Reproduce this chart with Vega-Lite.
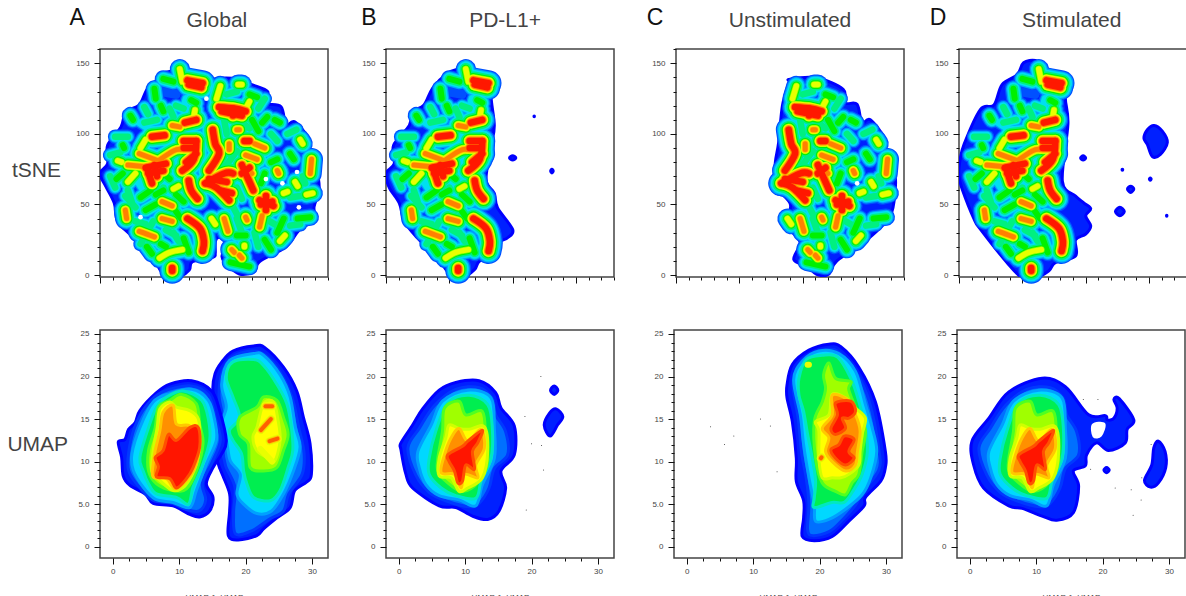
{"$schema":"https://vega.github.io/schema/vega-lite/v6.json","padding":{"left":6,"top":6,"right":0,"bottom":0},"autosize":{"type":"pad"},"background":"white",
"config":{"view":{"stroke":"#444","strokeWidth":1.5},"line":{"strokeCap":"round","strokeJoin":"round","interpolate":"cardinal"},"text":{"font":"Liberation Sans"},"axis":{"labelFont":"Liberation Sans","titleFont":"Liberation Sans","labelFontSize":8,"labelColor":"#444","tickColor":"#111","tickWidth":1,"domain":false,"grid":false,"labelOverlap":false,"labelPadding":5}},
"datasets":{
"t":[
{"g":"A","k":"p","id":"oA","d":0,"x":60,"y":150.7},{"g":"A","k":"p","id":"oA","d":0,"x":64.7,"y":146.5},{"g":"A","k":"p","id":"oA","d":0,"x":78.4,"y":142.5},{"g":"A","k":"p","id":"oA","d":0,"x":85,"y":135.8},{"g":"A","k":"p","id":"oA","d":0,"x":89,"y":138.7},{"g":"A","k":"p","id":"oA","d":0,"x":104.7,"y":139.4},{"g":"A","k":"p","id":"oA","d":0,"x":120.5,"y":134.7},{"g":"A","k":"p","id":"oA","d":0,"x":132.4,"y":130},{"g":"A","k":"p","id":"oA","d":0,"x":131,"y":121.7},{"g":"A","k":"p","id":"oA","d":0,"x":142.9,"y":119.3},{"g":"A","k":"p","id":"oA","d":0,"x":146.8,"y":106.3},{"g":"A","k":"p","id":"oA","d":0,"x":153.4,"y":108.7},{"g":"A","k":"p","id":"oA","d":0,"x":164,"y":98},{"g":"A","k":"p","id":"oA","d":0,"x":164,"y":91},{"g":"A","k":"p","id":"oA","d":0,"x":158.7,"y":79},{"g":"A","k":"p","id":"oA","d":0,"x":169.2,"y":82},{"g":"A","k":"p","id":"oA","d":0,"x":171.8,"y":72},{"g":"A","k":"p","id":"oA","d":0,"x":173,"y":60},{"g":"A","k":"p","id":"oA","d":0,"x":169,"y":48.4},{"g":"A","k":"p","id":"oA","d":0,"x":169,"y":39},{"g":"A","k":"p","id":"oA","d":0,"x":157.4,"y":32},{"g":"A","k":"p","id":"oA","d":0,"x":146.8,"y":20},{"g":"A","k":"p","id":"oA","d":0,"x":125.8,"y":9.4},{"g":"A","k":"p","id":"oA","d":0,"x":121.8,"y":2.4},{"g":"A","k":"p","id":"oA","d":0,"x":110,"y":0.7},{"g":"A","k":"p","id":"oA","d":0,"x":99.5,"y":8.3},{"g":"A","k":"p","id":"oA","d":0,"x":96.3,"y":13},{"g":"A","k":"p","id":"oA","d":0,"x":99,"y":22.4},{"g":"A","k":"p","id":"oA","d":0,"x":94.2,"y":26.7},{"g":"A","k":"p","id":"oA","d":0,"x":91,"y":23.6},{"g":"A","k":"p","id":"oA","d":0,"x":91,"y":15.4},{"g":"A","k":"p","id":"oA","d":0,"x":89,"y":12.5},{"g":"A","k":"p","id":"oA","d":0,"x":73,"y":9.4},{"g":"A","k":"p","id":"oA","d":0,"x":70.5,"y":3.5},{"g":"A","k":"p","id":"oA","d":0,"x":62.6,"y":-1},{"g":"A","k":"p","id":"oA","d":0,"x":50.8,"y":0},{"g":"A","k":"p","id":"oA","d":0,"x":41.6,"y":11.8},{"g":"A","k":"p","id":"oA","d":0,"x":25.8,"y":27},{"g":"A","k":"p","id":"oA","d":0,"x":14,"y":37.8},{"g":"A","k":"p","id":"oA","d":0,"x":11.3,"y":50.8},{"g":"A","k":"p","id":"oA","d":0,"x":4.7,"y":62.6},{"g":"A","k":"p","id":"oA","d":0,"x":0,"y":72},{"g":"A","k":"p","id":"oA","d":0,"x":6,"y":79},{"g":"A","k":"p","id":"oA","d":0,"x":6,"y":92},{"g":"A","k":"p","id":"oA","d":0,"x":16.6,"y":105},{"g":"A","k":"p","id":"oA","d":0,"x":20.5,"y":115.8},{"g":"A","k":"p","id":"oA","d":0,"x":31,"y":120.5},{"g":"A","k":"p","id":"oA","d":0,"x":37.6,"y":132.3},{"g":"A","k":"p","id":"oA","d":0,"x":46.8,"y":138.2},{"g":"A","k":"p","id":"oA","d":0,"x":49.5,"y":143},{"g":"A","k":"p","id":"oA","d":0,"x":58.7,"y":145.3},
{"g":"B","k":"p","id":"oB","d":0,"x":60.5,"y":150.7},{"g":"B","k":"p","id":"oB","d":0,"x":67,"y":146},{"g":"B","k":"p","id":"oB","d":0,"x":83,"y":141.5},{"g":"B","k":"p","id":"oB","d":0,"x":87,"y":134.6},{"g":"B","k":"p","id":"oB","d":0,"x":83,"y":127},{"g":"B","k":"p","id":"oB","d":0,"x":85.5,"y":106},{"g":"B","k":"p","id":"oB","d":0,"x":83,"y":91},{"g":"B","k":"p","id":"oB","d":0,"x":79,"y":67.6},{"g":"B","k":"p","id":"oB","d":0,"x":85.5,"y":58},{"g":"B","k":"p","id":"oB","d":0,"x":88,"y":47.7},{"g":"B","k":"p","id":"oB","d":0,"x":100,"y":32.3},{"g":"B","k":"p","id":"oB","d":0,"x":96,"y":26.4},{"g":"B","k":"p","id":"oB","d":0,"x":89.5,"y":23},{"g":"B","k":"p","id":"oB","d":0,"x":87,"y":13.5},{"g":"B","k":"p","id":"oB","d":0,"x":74,"y":10},{"g":"B","k":"p","id":"oB","d":0,"x":70,"y":4},{"g":"B","k":"p","id":"oB","d":0,"x":61,"y":-1.5},{"g":"B","k":"p","id":"oB","d":0,"x":51,"y":0},{"g":"B","k":"p","id":"oB","d":0,"x":39.5,"y":13.4},{"g":"B","k":"p","id":"oB","d":0,"x":24,"y":27},{"g":"B","k":"p","id":"oB","d":0,"x":14.5,"y":38},{"g":"B","k":"p","id":"oB","d":0,"x":10.5,"y":51},{"g":"B","k":"p","id":"oB","d":0,"x":2.6,"y":62},{"g":"B","k":"p","id":"oB","d":0,"x":0,"y":72},{"g":"B","k":"p","id":"oB","d":0,"x":6.5,"y":79},{"g":"B","k":"p","id":"oB","d":0,"x":6,"y":92},{"g":"B","k":"p","id":"oB","d":0,"x":18.4,"y":106},{"g":"B","k":"p","id":"oB","d":0,"x":21,"y":115.7},{"g":"B","k":"p","id":"oB","d":0,"x":30,"y":120.5},{"g":"B","k":"p","id":"oB","d":0,"x":37,"y":132.7},{"g":"B","k":"p","id":"oB","d":0,"x":48.7,"y":143},{"g":"B","k":"p","id":"oB","d":0,"x":58,"y":146.5},
{"g":"B","k":"p","id":"iB1","d":0,"x":97.5,"y":83},{"g":"B","k":"p","id":"iB1","d":0,"x":100,"y":84.5},{"g":"B","k":"p","id":"iB1","d":0,"x":102.5,"y":83},{"g":"B","k":"p","id":"iB1","d":0,"x":100,"y":81.5},
{"g":"B","k":"p","id":"iB2","d":0,"x":130,"y":73.7},{"g":"B","k":"p","id":"iB2","d":0,"x":131,"y":75},{"g":"B","k":"p","id":"iB2","d":0,"x":132,"y":73.7},{"g":"B","k":"p","id":"iB2","d":0,"x":131,"y":72.4},
{"g":"B","k":"p","id":"iB3","d":0,"x":116.8,"y":112.5},{"g":"B","k":"p","id":"iB3","d":0,"x":117,"y":112.8},{"g":"B","k":"p","id":"iB3","d":0,"x":117.2,"y":112.5},{"g":"B","k":"p","id":"iB3","d":0,"x":117,"y":112.2},
{"g":"C","k":"p","id":"oC","d":0,"x":90,"y":138.7},{"g":"C","k":"p","id":"oC","d":0,"x":111,"y":139.8},{"g":"C","k":"p","id":"oC","d":0,"x":132,"y":131.6},{"g":"C","k":"p","id":"oC","d":0,"x":133.6,"y":122},{"g":"C","k":"p","id":"oC","d":0,"x":142.9,"y":121},{"g":"C","k":"p","id":"oC","d":0,"x":146.8,"y":108},{"g":"C","k":"p","id":"oC","d":0,"x":153.4,"y":110},{"g":"C","k":"p","id":"oC","d":0,"x":165,"y":96},{"g":"C","k":"p","id":"oC","d":0,"x":162.5,"y":86.7},{"g":"C","k":"p","id":"oC","d":0,"x":169,"y":83},{"g":"C","k":"p","id":"oC","d":0,"x":173,"y":70},{"g":"C","k":"p","id":"oC","d":0,"x":173,"y":60.7},{"g":"C","k":"p","id":"oC","d":0,"x":169,"y":41.8},{"g":"C","k":"p","id":"oC","d":0,"x":150.8,"y":25},{"g":"C","k":"p","id":"oC","d":0,"x":127,"y":10},{"g":"C","k":"p","id":"oC","d":0,"x":120.5,"y":0.5},{"g":"C","k":"p","id":"oC","d":0,"x":111,"y":0.5},{"g":"C","k":"p","id":"oC","d":0,"x":103.4,"y":6.4},{"g":"C","k":"p","id":"oC","d":0,"x":93,"y":11},{"g":"C","k":"p","id":"oC","d":0,"x":98,"y":23},{"g":"C","k":"p","id":"oC","d":0,"x":90.3,"y":32.4},{"g":"C","k":"p","id":"oC","d":0,"x":89,"y":42},{"g":"C","k":"p","id":"oC","d":0,"x":90,"y":51},{"g":"C","k":"p","id":"oC","d":0,"x":78.4,"y":64},{"g":"C","k":"p","id":"oC","d":0,"x":78.4,"y":79.6},{"g":"C","k":"p","id":"oC","d":0,"x":81,"y":93.8},{"g":"C","k":"p","id":"oC","d":0,"x":84,"y":120},{"g":"C","k":"p","id":"oC","d":0,"x":89,"y":136},
{"g":"D","k":"p","id":"oD","d":0,"x":60.5,"y":152},{"g":"D","k":"p","id":"oD","d":0,"x":67,"y":147},{"g":"D","k":"p","id":"oD","d":0,"x":84,"y":141},{"g":"D","k":"p","id":"oD","d":0,"x":88,"y":133.5},{"g":"D","k":"p","id":"oD","d":0,"x":84,"y":125.7},{"g":"D","k":"p","id":"oD","d":0,"x":86,"y":107},{"g":"D","k":"p","id":"oD","d":0,"x":81.6,"y":66.6},{"g":"D","k":"p","id":"oD","d":0,"x":92,"y":56},{"g":"D","k":"p","id":"oD","d":0,"x":98.7,"y":51},{"g":"D","k":"p","id":"oD","d":0,"x":104,"y":47},{"g":"D","k":"p","id":"oD","d":0,"x":100,"y":42},{"g":"D","k":"p","id":"oD","d":0,"x":104,"y":34.7},{"g":"D","k":"p","id":"oD","d":0,"x":100,"y":29},{"g":"D","k":"p","id":"oD","d":0,"x":92,"y":25},{"g":"D","k":"p","id":"oD","d":0,"x":92,"y":13.5},{"g":"D","k":"p","id":"oD","d":0,"x":76,"y":8.7},{"g":"D","k":"p","id":"oD","d":0,"x":71,"y":3},{"g":"D","k":"p","id":"oD","d":0,"x":60.5,"y":-2},{"g":"D","k":"p","id":"oD","d":0,"x":50,"y":-2},{"g":"D","k":"p","id":"oD","d":0,"x":38,"y":8.7},{"g":"D","k":"p","id":"oD","d":0,"x":17,"y":32.4},{"g":"D","k":"p","id":"oD","d":0,"x":12,"y":39.5},{"g":"D","k":"p","id":"oD","d":0,"x":2.6,"y":60.7},{"g":"D","k":"p","id":"oD","d":0,"x":0,"y":70},{"g":"D","k":"p","id":"oD","d":0,"x":0.5,"y":79.6},{"g":"D","k":"p","id":"oD","d":0,"x":4,"y":92.6},{"g":"D","k":"p","id":"oD","d":0,"x":17,"y":117.4},{"g":"D","k":"p","id":"oD","d":0,"x":27.6,"y":120.5},{"g":"D","k":"p","id":"oD","d":0,"x":34,"y":135},{"g":"D","k":"p","id":"oD","d":0,"x":46,"y":142},{"g":"D","k":"p","id":"oD","d":0,"x":51,"y":150.5},
{"g":"D","k":"p","id":"iD0","d":0,"x":154,"y":106},{"g":"D","k":"p","id":"iD0","d":0,"x":160.5,"y":102},{"g":"D","k":"p","id":"iD0","d":0,"x":164.5,"y":94},{"g":"D","k":"p","id":"iD0","d":0,"x":159,"y":85.5},{"g":"D","k":"p","id":"iD0","d":0,"x":152.6,"y":84},{"g":"D","k":"p","id":"iD0","d":0,"x":148.7,"y":92.6},{"g":"D","k":"p","id":"iD0","d":0,"x":146,"y":97},{"g":"D","k":"p","id":"iD0","d":0,"x":148.7,"y":103},
{"g":"D","k":"p","id":"iD1","d":0,"x":96,"y":83},{"g":"D","k":"p","id":"iD1","d":0,"x":98,"y":84.5},{"g":"D","k":"p","id":"iD1","d":0,"x":100,"y":83},{"g":"D","k":"p","id":"iD1","d":0,"x":98,"y":81.5},
{"g":"D","k":"p","id":"iD2","d":0,"x":128.7,"y":74.6},{"g":"D","k":"p","id":"iD2","d":0,"x":129,"y":75},{"g":"D","k":"p","id":"iD2","d":0,"x":129.3,"y":74.6},{"g":"D","k":"p","id":"iD2","d":0,"x":129,"y":74.2},
{"g":"D","k":"p","id":"iD3","d":0,"x":150.3,"y":68},{"g":"D","k":"p","id":"iD3","d":0,"x":151,"y":68.8},{"g":"D","k":"p","id":"iD3","d":0,"x":151.7,"y":68},{"g":"D","k":"p","id":"iD3","d":0,"x":151,"y":67.2},
{"g":"D","k":"p","id":"iD4","d":0,"x":133,"y":61},{"g":"D","k":"p","id":"iD4","d":0,"x":135.5,"y":63},{"g":"D","k":"p","id":"iD4","d":0,"x":138,"y":61},{"g":"D","k":"p","id":"iD4","d":0,"x":135.5,"y":58.5},
{"g":"D","k":"p","id":"iD5","d":0,"x":123.5,"y":45},{"g":"D","k":"p","id":"iD5","d":0,"x":127,"y":48},{"g":"D","k":"p","id":"iD5","d":0,"x":130.5,"y":45},{"g":"D","k":"p","id":"iD5","d":0,"x":127,"y":42},
{"g":"D","k":"p","id":"iD6","d":0,"x":163.8,"y":42},{"g":"D","k":"p","id":"iD6","d":0,"x":164,"y":42.3},{"g":"D","k":"p","id":"iD6","d":0,"x":164.2,"y":42},{"g":"D","k":"p","id":"iD6","d":0,"x":164,"y":41.7},
{"g":"ABD","k":"l","id":"l1","d":7,"x":69,"y":138},{"g":"ABD","k":"l","id":"l1","d":7,"x":81,"y":136},
{"g":"ABD","k":"l","id":"l2","d":5,"x":63,"y":146},{"g":"ABD","k":"l","id":"l2","d":5,"x":65,"y":137},
{"g":"ABD","k":"l","id":"l3","d":4,"x":50,"y":139},{"g":"ABD","k":"l","id":"l3","d":4,"x":58,"y":137},
{"g":"ABD","k":"l","id":"l4","d":1,"x":48,"y":130},{"g":"ABD","k":"l","id":"l4","d":1,"x":60,"y":128},
{"g":"ABD","k":"l","id":"l5","d":4,"x":43,"y":132},{"g":"ABD","k":"l","id":"l5","d":4,"x":44,"y":125},
{"g":"ABD","k":"l","id":"l6","d":4,"x":48,"y":120},{"g":"ABD","k":"l","id":"l6","d":4,"x":50,"y":116},
{"g":"ABD","k":"l","id":"l7","d":3,"x":35,"y":119},{"g":"ABD","k":"l","id":"l7","d":3,"x":38,"y":114},
{"g":"ABD","k":"l","id":"l8","d":4,"x":24,"y":113},{"g":"ABD","k":"l","id":"l8","d":4,"x":26,"y":110},
{"g":"ABD","k":"l","id":"l9","d":2,"x":31,"y":108},{"g":"ABD","k":"l","id":"l9","d":2,"x":38,"y":104},
{"g":"ABD","k":"l","id":"l10","d":6,"x":57,"y":106},{"g":"ABD","k":"l","id":"l10","d":6,"x":63,"y":105},
{"g":"ABD","k":"l","id":"l11","d":7,"x":67,"y":108},{"g":"ABD","k":"l","id":"l11","d":7,"x":76,"y":110},
{"g":"ABD","k":"l","id":"l12","d":5,"x":75,"y":117},{"g":"ABD","k":"l","id":"l12","d":5,"x":74,"y":112},
{"g":"ABD","k":"l","id":"l13","d":7,"x":41,"y":98},{"g":"ABD","k":"l","id":"l13","d":7,"x":51,"y":99},
{"g":"ABD","k":"l","id":"l14","d":5,"x":32,"y":90},{"g":"ABD","k":"l","id":"l14","d":5,"x":36,"y":96},
{"g":"ABD","k":"l","id":"l15","d":6,"x":31,"y":86},{"g":"ABD","k":"l","id":"l15","d":6,"x":46,"y":81},
{"g":"ABD","k":"l","id":"l16","d":6,"x":46,"y":81},{"g":"ABD","k":"l","id":"l16","d":6,"x":58,"y":88},{"g":"ABD","k":"l","id":"l16","d":6,"x":64,"y":89},
{"g":"ABD","k":"l","id":"l17","d":7,"x":36,"y":76},{"g":"ABD","k":"l","id":"l17","d":7,"x":52,"y":79},
{"g":"ABD","k":"l","id":"l18","d":7,"x":37,"y":76},{"g":"ABD","k":"l","id":"l18","d":7,"x":41,"y":65},
{"g":"ABD","k":"l","id":"l19","d":7,"x":43,"y":78},{"g":"ABD","k":"l","id":"l19","d":7,"x":45,"y":70},
{"g":"ABD","k":"l","id":"l70","d":7,"x":38,"y":72},{"g":"ABD","k":"l","id":"l70","d":7,"x":50,"y":74},
{"g":"ABD","k":"l","id":"l71","d":7,"x":66,"y":90},{"g":"ABD","k":"l","id":"l71","d":7,"x":74,"y":90},
{"g":"ABD","k":"l","id":"l72","d":7,"x":68,"y":80},{"g":"ABD","k":"l","id":"l72","d":7,"x":76,"y":86},
{"g":"ABD","k":"l","id":"l73","d":7,"x":70,"y":135},{"g":"ABD","k":"l","id":"l73","d":7,"x":80,"y":133},
{"g":"ABD","k":"l","id":"l20","d":6,"x":22,"y":78},{"g":"ABD","k":"l","id":"l20","d":6,"x":34,"y":77},
{"g":"ABD","k":"l","id":"l21","d":5,"x":14,"y":81},{"g":"ABD","k":"l","id":"l21","d":5,"x":17,"y":80},
{"g":"ABD","k":"l","id":"l22","d":4,"x":18,"y":92},{"g":"ABD","k":"l","id":"l22","d":4,"x":19,"y":90},
{"g":"ABD","k":"l","id":"l23","d":3,"x":12,"y":98},{"g":"ABD","k":"l","id":"l23","d":3,"x":22,"y":98},
{"g":"ABD","k":"l","id":"l24","d":3,"x":8,"y":85},{"g":"ABD","k":"l","id":"l24","d":3,"x":16,"y":87},
{"g":"ABD","k":"l","id":"l25","d":7,"x":66,"y":95},{"g":"ABD","k":"l","id":"l25","d":7,"x":76,"y":95},
{"g":"ABD","k":"l","id":"l26","d":7,"x":76,"y":95},{"g":"ABD","k":"l","id":"l26","d":7,"x":74,"y":82},{"g":"ABD","k":"l","id":"l26","d":7,"x":65,"y":74},
{"g":"ABD","k":"l","id":"l27","d":7,"x":70,"y":67},{"g":"ABD","k":"l","id":"l27","d":7,"x":72,"y":60},{"g":"ABD","k":"l","id":"l27","d":7,"x":77,"y":54},
{"g":"ABD","k":"l","id":"l28","d":6,"x":49,"y":52},{"g":"ABD","k":"l","id":"l28","d":6,"x":57,"y":49},
{"g":"ABD","k":"l","id":"l29","d":6,"x":49,"y":40},{"g":"ABD","k":"l","id":"l29","d":6,"x":57,"y":38},
{"g":"ABD","k":"l","id":"l30","d":6,"x":20,"y":46},{"g":"ABD","k":"l","id":"l30","d":6,"x":21,"y":40},
{"g":"ABD","k":"l","id":"l31","d":7,"x":69,"y":40},{"g":"ABD","k":"l","id":"l31","d":7,"x":79,"y":33},{"g":"ABD","k":"l","id":"l31","d":7,"x":82,"y":24},{"g":"ABD","k":"l","id":"l31","d":7,"x":81,"y":17},
{"g":"ABD","k":"l","id":"l32","d":6,"x":31,"y":31},{"g":"ABD","k":"l","id":"l32","d":6,"x":37,"y":29},{"g":"ABD","k":"l","id":"l32","d":6,"x":43,"y":27},
{"g":"ABD","k":"l","id":"l33","d":5,"x":47,"y":12},{"g":"ABD","k":"l","id":"l33","d":5,"x":55,"y":16},{"g":"ABD","k":"l","id":"l33","d":5,"x":65,"y":18},
{"g":"ABD","k":"l","id":"l34","d":7,"x":57,"y":5},{"g":"ABD","k":"l","id":"l34","d":7,"x":57,"y":3},
{"g":"ABD","k":"l","id":"l36","d":5,"x":22,"y":66},{"g":"ABD","k":"l","id":"l36","d":5,"x":28,"y":72},
{"g":"ABD","k":"l","id":"l37","d":4,"x":13,"y":68},{"g":"ABD","k":"l","id":"l37","d":4,"x":18,"y":72},
{"g":"ABD","k":"l","id":"l38","d":4,"x":32,"y":55},{"g":"ABD","k":"l","id":"l38","d":4,"x":40,"y":60},
{"g":"ABD","k":"l","id":"l39","d":5,"x":58,"y":61},{"g":"ABD","k":"l","id":"l39","d":5,"x":62,"y":63},
{"g":"ABD","k":"l","id":"l40","d":4,"x":44,"y":57},{"g":"ABD","k":"l","id":"l40","d":4,"x":50,"y":60},
{"g":"ABD","k":"l","id":"l41","d":4,"x":60,"y":57},{"g":"ABD","k":"l","id":"l41","d":4,"x":66,"y":52},
{"g":"ABD","k":"l","id":"l42","d":4,"x":36,"y":46},{"g":"ABD","k":"l","id":"l42","d":4,"x":44,"y":50},
{"g":"ABD","k":"l","id":"l43","d":3,"x":58,"y":30},{"g":"ABD","k":"l","id":"l43","d":3,"x":62,"y":24},
{"g":"ABD","k":"l","id":"l44","d":4,"x":48,"y":22},{"g":"ABD","k":"l","id":"l44","d":4,"x":52,"y":20},
{"g":"ABD","k":"l","id":"l45","d":4,"x":60,"y":45},{"g":"ABD","k":"l","id":"l45","d":4,"x":64,"y":40},
{"g":"ABD","k":"l","id":"l46","d":4,"x":37,"y":20},{"g":"ABD","k":"l","id":"l46","d":4,"x":41,"y":15},
{"g":"ABD","k":"l","id":"l47","d":4,"x":55,"y":68},{"g":"ABD","k":"l","id":"l47","d":4,"x":50,"y":72},
{"g":"ABD","k":"l","id":"l48","d":3,"x":60,"y":120},{"g":"ABD","k":"l","id":"l48","d":3,"x":66,"y":118},
{"g":"ABD","k":"l","id":"l49","d":4,"x":72,"y":124},{"g":"ABD","k":"l","id":"l49","d":4,"x":76,"y":122},
{"g":"ABD","k":"l","id":"l50","d":3,"x":22,"y":60},{"g":"ABD","k":"l","id":"l50","d":3,"x":25,"y":52},
{"g":"ABD","k":"l","id":"l51","d":3,"x":8,"y":70},{"g":"ABD","k":"l","id":"l51","d":3,"x":12,"y":62},
{"g":"ABD","k":"l","id":"l52","d":3,"x":35,"y":108},{"g":"ABD","k":"l","id":"l52","d":3,"x":45,"y":110},
{"g":"ABD","k":"l","id":"l53","d":3,"x":55,"y":118},{"g":"ABD","k":"l","id":"l53","d":3,"x":58,"y":112},
{"g":"ABD","k":"l","id":"l54","d":2,"x":68,"y":125},{"g":"ABD","k":"l","id":"l54","d":2,"x":66,"y":118},
{"g":"ABD","k":"l","id":"l56","d":3,"x":20,"y":56},{"g":"ABD","k":"l","id":"l56","d":3,"x":28,"y":48},
{"g":"ABD","k":"l","id":"l57","d":2,"x":30,"y":66},{"g":"ABD","k":"l","id":"l57","d":2,"x":36,"y":58},
{"g":"ABD","k":"l","id":"l59","d":3,"x":28,"y":38},{"g":"ABD","k":"l","id":"l59","d":3,"x":36,"y":36},
{"g":"ABD","k":"l","id":"l60","d":3,"x":32,"y":22},{"g":"ABD","k":"l","id":"l60","d":3,"x":42,"y":38},
{"g":"ABD","k":"l","id":"l61","d":3,"x":60,"y":28},{"g":"ABD","k":"l","id":"l61","d":3,"x":52,"y":32},
{"g":"ABD","k":"l","id":"l62","d":4,"x":66,"y":26},{"g":"ABD","k":"l","id":"l62","d":4,"x":70,"y":16},
{"g":"ABD","k":"l","id":"l64","d":3,"x":50,"y":62},{"g":"ABD","k":"l","id":"l64","d":3,"x":46,"y":50},
{"g":"AC","k":"l","id":"r1","d":5,"x":95,"y":134},{"g":"AC","k":"l","id":"r1","d":5,"x":92,"y":125},
{"g":"AC","k":"l","id":"r2","d":7,"x":94,"y":119},{"g":"AC","k":"l","id":"r2","d":7,"x":106,"y":118},{"g":"AC","k":"l","id":"r2","d":7,"x":115,"y":116},
{"g":"AC","k":"l","id":"r3","d":7,"x":105,"y":118},{"g":"AC","k":"l","id":"r3","d":7,"x":105,"y":113},
{"g":"AC","k":"l","id":"r70","d":7,"x":96,"y":116},{"g":"AC","k":"l","id":"r70","d":7,"x":112,"y":113},
{"g":"AC","k":"l","id":"r71","d":7,"x":86,"y":68},{"g":"AC","k":"l","id":"r71","d":7,"x":100,"y":66},
{"g":"AC","k":"l","id":"r72","d":7,"x":95,"y":60},{"g":"AC","k":"l","id":"r72","d":7,"x":104,"y":58},
{"g":"AC","k":"l","id":"r73","d":7,"x":112,"y":72},{"g":"AC","k":"l","id":"r73","d":7,"x":118,"y":76},
{"g":"AC","k":"l","id":"r74","d":7,"x":127,"y":50},{"g":"AC","k":"l","id":"r74","d":7,"x":136,"y":52},
{"g":"AC","k":"l","id":"r4","d":5,"x":115,"y":118},{"g":"AC","k":"l","id":"r4","d":5,"x":118,"y":123},
{"g":"AC","k":"l","id":"r5","d":5,"x":109,"y":135},{"g":"AC","k":"l","id":"r5","d":5,"x":112,"y":135},
{"g":"AC","k":"l","id":"r6","d":7,"x":89,"y":103},{"g":"AC","k":"l","id":"r6","d":7,"x":91,"y":93},{"g":"AC","k":"l","id":"r6","d":7,"x":94,"y":86},{"g":"AC","k":"l","id":"r6","d":7,"x":86,"y":74},
{"g":"AC","k":"l","id":"r7","d":7,"x":83,"y":65},{"g":"AC","k":"l","id":"r7","d":7,"x":98,"y":72},{"g":"AC","k":"l","id":"r7","d":7,"x":105,"y":72},
{"g":"AC","k":"l","id":"r8","d":7,"x":84,"y":65},{"g":"AC","k":"l","id":"r8","d":7,"x":92,"y":62},{"g":"AC","k":"l","id":"r8","d":7,"x":102,"y":53},
{"g":"AC","k":"l","id":"r9","d":7,"x":112,"y":78},{"g":"AC","k":"l","id":"r9","d":7,"x":117,"y":68},{"g":"AC","k":"l","id":"r9","d":7,"x":121,"y":60},
{"g":"AC","k":"l","id":"r10","d":7,"x":114,"y":95},{"g":"AC","k":"l","id":"r10","d":7,"x":118,"y":95},
{"g":"AC","k":"l","id":"r11","d":6,"x":122,"y":93},{"g":"AC","k":"l","id":"r11","d":6,"x":130,"y":90},
{"g":"AC","k":"l","id":"r12","d":6,"x":115,"y":85},{"g":"AC","k":"l","id":"r12","d":6,"x":124,"y":82},
{"g":"AC","k":"l","id":"r13","d":6,"x":112,"y":78},{"g":"AC","k":"l","id":"r13","d":6,"x":120,"y":72},
{"g":"AC","k":"l","id":"r14","d":7,"x":126,"y":53},{"g":"AC","k":"l","id":"r14","d":7,"x":137,"y":49},
{"g":"AC","k":"l","id":"r15","d":7,"x":131,"y":56},{"g":"AC","k":"l","id":"r15","d":7,"x":131,"y":46},
{"g":"AC","k":"l","id":"r16","d":6,"x":140,"y":74},{"g":"AC","k":"l","id":"r16","d":6,"x":141,"y":72},
{"g":"AC","k":"l","id":"r17","d":6,"x":167,"y":82},{"g":"AC","k":"l","id":"r17","d":6,"x":166,"y":72},
{"g":"AC","k":"l","id":"r18","d":6,"x":108,"y":103},{"g":"AC","k":"l","id":"r18","d":6,"x":110,"y":103},
{"g":"AC","k":"l","id":"r19","d":6,"x":102,"y":93},{"g":"AC","k":"l","id":"r19","d":6,"x":102,"y":89},
{"g":"AC","k":"l","id":"r20","d":6,"x":115,"y":41},{"g":"AC","k":"l","id":"r20","d":6,"x":116,"y":39},
{"g":"AC","k":"l","id":"r21","d":6,"x":98,"y":40},{"g":"AC","k":"l","id":"r21","d":6,"x":101,"y":31},
{"g":"AC","k":"l","id":"r22","d":5,"x":88,"y":40},{"g":"AC","k":"l","id":"r22","d":5,"x":91,"y":36},
{"g":"AC","k":"l","id":"r23","d":6,"x":104,"y":18},{"g":"AC","k":"l","id":"r23","d":6,"x":106,"y":16},
{"g":"AC","k":"l","id":"r24","d":6,"x":110,"y":14},{"g":"AC","k":"l","id":"r24","d":6,"x":112,"y":12},
{"g":"AC","k":"l","id":"r25","d":5,"x":114,"y":20},{"g":"AC","k":"l","id":"r25","d":5,"x":114,"y":21},
{"g":"AC","k":"l","id":"r26","d":5,"x":142,"y":24},{"g":"AC","k":"l","id":"r26","d":5,"x":146,"y":28},
{"g":"AC","k":"l","id":"r27","d":6,"x":126,"y":34},{"g":"AC","k":"l","id":"r27","d":6,"x":128,"y":42},
{"g":"AC","k":"l","id":"r28","d":5,"x":154,"y":66},{"g":"AC","k":"l","id":"r28","d":5,"x":156,"y":63},
{"g":"AC","k":"l","id":"r29","d":5,"x":163,"y":57},{"g":"AC","k":"l","id":"r29","d":5,"x":168,"y":58},
{"g":"AC","k":"l","id":"r30","d":5,"x":145,"y":58},{"g":"AC","k":"l","id":"r30","d":5,"x":148,"y":59},
{"g":"AC","k":"l","id":"r31","d":4,"x":156,"y":40},{"g":"AC","k":"l","id":"r31","d":4,"x":166,"y":41},
{"g":"AC","k":"l","id":"r32","d":4,"x":128,"y":108},{"g":"AC","k":"l","id":"r32","d":4,"x":132,"y":112},
{"g":"AC","k":"l","id":"r33","d":4,"x":118,"y":128},{"g":"AC","k":"l","id":"r33","d":4,"x":124,"y":126},
{"g":"AC","k":"l","id":"r34","d":4,"x":150,"y":86},{"g":"AC","k":"l","id":"r34","d":4,"x":153,"y":82},
{"g":"AC","k":"l","id":"r35","d":5,"x":158,"y":96},{"g":"AC","k":"l","id":"r35","d":5,"x":160,"y":93},
{"g":"AC","k":"l","id":"r36","d":4,"x":138,"y":110},{"g":"AC","k":"l","id":"r36","d":4,"x":142,"y":108},
{"g":"AC","k":"l","id":"r37","d":3,"x":135,"y":100},{"g":"AC","k":"l","id":"r37","d":3,"x":140,"y":95},
{"g":"AC","k":"l","id":"r38","d":3,"x":100,"y":78},{"g":"AC","k":"l","id":"r38","d":3,"x":108,"y":88},
{"g":"AC","k":"l","id":"r39","d":4,"x":120,"y":110},{"g":"AC","k":"l","id":"r39","d":4,"x":125,"y":102},
{"g":"AC","k":"l","id":"r42","d":4,"x":135,"y":80},{"g":"AC","k":"l","id":"r42","d":4,"x":140,"y":82},
{"g":"AC","k":"l","id":"r43","d":4,"x":108,"y":28},{"g":"AC","k":"l","id":"r43","d":4,"x":115,"y":28},
{"g":"AC","k":"l","id":"r44","d":4,"x":130,"y":25},{"g":"AC","k":"l","id":"r44","d":4,"x":135,"y":18},
{"g":"AC","k":"l","id":"r45","d":3,"x":104,"y":50},{"g":"AC","k":"l","id":"r45","d":3,"x":110,"y":40},
{"g":"AC","k":"l","id":"r46","d":4,"x":103,"y":9},{"g":"AC","k":"l","id":"r46","d":4,"x":118,"y":6},
{"g":"AC","k":"l","id":"r48","d":4,"x":145,"y":40},{"g":"AC","k":"l","id":"r48","d":4,"x":140,"y":30},
{"g":"AC","k":"l","id":"r49","d":4,"x":127,"y":65},{"g":"AC","k":"l","id":"r49","d":4,"x":130,"y":72},
{"g":"AC","k":"l","id":"r50","d":3,"x":98,"y":110},{"g":"AC","k":"l","id":"r50","d":3,"x":100,"y":100},
{"g":"AC","k":"l","id":"r51","d":3,"x":112,"y":108},{"g":"AC","k":"l","id":"r51","d":3,"x":118,"y":104},
{"g":"AC","k":"l","id":"r54","d":3,"x":150,"y":55},{"g":"AC","k":"l","id":"r54","d":3,"x":158,"y":56},
{"g":"AC","k":"l","id":"r55","d":3,"x":108,"y":62},{"g":"AC","k":"l","id":"r55","d":3,"x":112,"y":54},
{"g":"AC","k":"l","id":"r56","d":3,"x":125,"y":20},{"g":"AC","k":"l","id":"r56","d":3,"x":122,"y":30},
{"g":"AC","k":"l","id":"r57","d":3,"x":150,"y":35},{"g":"AC","k":"l","id":"r57","d":3,"x":158,"y":36},
{"g":"AC","k":"l","id":"r58","d":3,"x":108,"y":40},{"g":"AC","k":"l","id":"r58","d":3,"x":112,"y":30},
{"g":"AC","k":"l","id":"r59","d":3,"x":140,"y":35},{"g":"AC","k":"l","id":"r59","d":3,"x":130,"y":40},
{"g":"AC","k":"l","id":"r60","d":3,"x":100,"y":128},{"g":"AC","k":"l","id":"r60","d":3,"x":108,"y":130},
{"g":"AC","k":"l","id":"r61","d":3,"x":130,"y":125},{"g":"AC","k":"l","id":"r61","d":3,"x":125,"y":118},
{"g":"AC","k":"l","id":"r62","d":3,"x":148,"y":100},{"g":"AC","k":"l","id":"r62","d":3,"x":155,"y":103},
{"g":"AC","k":"l","id":"r63","d":3,"x":160,"y":70},{"g":"AC","k":"l","id":"r63","d":3,"x":162,"y":65},
{"g":"A","k":"h","x":84,"y":125},{"g":"A","k":"h","x":131,"y":68},{"g":"A","k":"h","x":144,"y":65},{"g":"A","k":"h","x":155.5,"y":73},{"g":"A","k":"h","x":157,"y":48},{"g":"A","k":"h","x":32,"y":41},{"g":"C","k":"h","x":143,"y":65},
{"g":"A","k":"t","x":92.3,"y":180,"s":"Global"},{"g":"B","k":"t","x":94,"y":180,"s":"PD-L1+"},{"g":"C","k":"t","x":90,"y":180,"s":"Unstimulated"},{"g":"D","k":"t","x":89,"y":180,"s":"Stimulated"},
{"g":"A","k":"n","x":-18,"y":182,"s":"A"},{"g":"B","k":"n","x":-13.4,"y":182,"s":"B"},{"g":"C","k":"n","x":-16.6,"y":182,"s":"C"},{"g":"D","k":"n","x":-16.6,"y":182,"s":"D"},
{"g":"A","k":"r","x":-30.8,"y":73.7,"s":" tSNE"}
],
"u":[
{"g":"A","k":"p","id":"Ar0","d":0,"x":15.1,"y":18.3},{"g":"A","k":"p","id":"Ar0","d":0,"x":15.4,"y":20.3},{"g":"A","k":"p","id":"Ar0","d":0,"x":16.4,"y":21.7},{"g":"A","k":"p","id":"Ar0","d":0,"x":18.1,"y":23},{"g":"A","k":"p","id":"Ar0","d":0,"x":21.2,"y":23.6},{"g":"A","k":"p","id":"Ar0","d":0,"x":22.9,"y":23.4},{"g":"A","k":"p","id":"Ar0","d":0,"x":25.7,"y":21.1},{"g":"A","k":"p","id":"Ar0","d":0,"x":27.7,"y":18.3},{"g":"A","k":"p","id":"Ar0","d":0,"x":28.7,"y":15.2},{"g":"A","k":"p","id":"Ar0","d":0,"x":29.7,"y":12.1},{"g":"A","k":"p","id":"Ar0","d":0,"x":29.9,"y":8.5},{"g":"A","k":"p","id":"Ar0","d":0,"x":29.2,"y":7.6},{"g":"A","k":"p","id":"Ar0","d":0,"x":27.4,"y":6.6},{"g":"A","k":"p","id":"Ar0","d":0,"x":26.7,"y":4.6},{"g":"A","k":"p","id":"Ar0","d":0,"x":24.7,"y":3.4},{"g":"A","k":"p","id":"Ar0","d":0,"x":22.7,"y":2.1},{"g":"A","k":"p","id":"Ar0","d":0,"x":21.7,"y":1.3},{"g":"A","k":"p","id":"Ar0","d":0,"x":18.9,"y":0.8},{"g":"A","k":"p","id":"Ar0","d":0,"x":17.4,"y":1.3},{"g":"A","k":"p","id":"Ar0","d":0,"x":17.6,"y":4.2},{"g":"A","k":"p","id":"Ar0","d":0,"x":17.6,"y":6.2},{"g":"A","k":"p","id":"Ar0","d":0,"x":16.6,"y":8.3},{"g":"A","k":"p","id":"Ar0","d":0,"x":15.9,"y":9.7},{"g":"A","k":"p","id":"Ar0","d":0,"x":15.6,"y":11.3},{"g":"A","k":"p","id":"Ar0","d":0,"x":16.4,"y":13.2},{"g":"A","k":"p","id":"Ar0","d":0,"x":15.9,"y":16},
{"g":"A","k":"p","id":"Ar1","d":1,"x":16,"y":18},{"g":"A","k":"p","id":"Ar1","d":1,"x":16.5,"y":20.5},{"g":"A","k":"p","id":"Ar1","d":1,"x":18,"y":22.3},{"g":"A","k":"p","id":"Ar1","d":1,"x":21,"y":23},{"g":"A","k":"p","id":"Ar1","d":1,"x":23,"y":22.5},{"g":"A","k":"p","id":"Ar1","d":1,"x":25.2,"y":20.5},{"g":"A","k":"p","id":"Ar1","d":1,"x":27,"y":17.5},{"g":"A","k":"p","id":"Ar1","d":1,"x":28,"y":14},{"g":"A","k":"p","id":"Ar1","d":1,"x":28.8,"y":11},{"g":"A","k":"p","id":"Ar1","d":1,"x":28.5,"y":8.5},{"g":"A","k":"p","id":"Ar1","d":1,"x":26.5,"y":6.2},{"g":"A","k":"p","id":"Ar1","d":1,"x":25.7,"y":4.2},{"g":"A","k":"p","id":"Ar1","d":1,"x":23.5,"y":3.2},{"g":"A","k":"p","id":"Ar1","d":1,"x":21,"y":1.9},{"g":"A","k":"p","id":"Ar1","d":1,"x":18.5,"y":1.5},{"g":"A","k":"p","id":"Ar1","d":1,"x":18.2,"y":4},{"g":"A","k":"p","id":"Ar1","d":1,"x":18.4,"y":7},{"g":"A","k":"p","id":"Ar1","d":1,"x":17,"y":9.5},{"g":"A","k":"p","id":"Ar1","d":1,"x":16.6,"y":11.5},{"g":"A","k":"p","id":"Ar1","d":1,"x":17,"y":14},{"g":"A","k":"p","id":"Ar1","d":1,"x":16.4,"y":16},
{"g":"A","k":"p","id":"Ar2","d":2,"x":16.4,"y":19.1},{"g":"A","k":"p","id":"Ar2","d":2,"x":17.6,"y":21.9},{"g":"A","k":"p","id":"Ar2","d":2,"x":21.2,"y":22.7},{"g":"A","k":"p","id":"Ar2","d":2,"x":22.7,"y":22.5},{"g":"A","k":"p","id":"Ar2","d":2,"x":25.2,"y":20.2},{"g":"A","k":"p","id":"Ar2","d":2,"x":26.7,"y":17.6},{"g":"A","k":"p","id":"Ar2","d":2,"x":27.5,"y":14},{"g":"A","k":"p","id":"Ar2","d":2,"x":28.2,"y":11.7},{"g":"A","k":"p","id":"Ar2","d":2,"x":27.2,"y":8.9},{"g":"A","k":"p","id":"Ar2","d":2,"x":25.7,"y":6.2},{"g":"A","k":"p","id":"Ar2","d":2,"x":23.9,"y":4.2},{"g":"A","k":"p","id":"Ar2","d":2,"x":21.7,"y":3.9},{"g":"A","k":"p","id":"Ar2","d":2,"x":19.7,"y":5},{"g":"A","k":"p","id":"Ar2","d":2,"x":18.7,"y":6.2},{"g":"A","k":"p","id":"Ar2","d":2,"x":19.2,"y":8.5},{"g":"A","k":"p","id":"Ar2","d":2,"x":17.7,"y":10.1},{"g":"A","k":"p","id":"Ar2","d":2,"x":17.1,"y":12.5},{"g":"A","k":"p","id":"Ar2","d":2,"x":16.1,"y":14},{"g":"A","k":"p","id":"Ar2","d":2,"x":17.1,"y":16.4},
{"g":"A","k":"p","id":"Ar3","d":3,"x":17.1,"y":19.9},{"g":"A","k":"p","id":"Ar3","d":3,"x":18.1,"y":21.7},{"g":"A","k":"p","id":"Ar3","d":3,"x":21.2,"y":22},{"g":"A","k":"p","id":"Ar3","d":3,"x":22.7,"y":21.3},{"g":"A","k":"p","id":"Ar3","d":3,"x":24.7,"y":19.1},{"g":"A","k":"p","id":"Ar3","d":3,"x":26.2,"y":16.8},{"g":"A","k":"p","id":"Ar3","d":3,"x":26.9,"y":14},{"g":"A","k":"p","id":"Ar3","d":3,"x":27.1,"y":11.3},{"g":"A","k":"p","id":"Ar3","d":3,"x":26.4,"y":9.3},{"g":"A","k":"p","id":"Ar3","d":3,"x":25.2,"y":6.6},{"g":"A","k":"p","id":"Ar3","d":3,"x":23.7,"y":5.4},{"g":"A","k":"p","id":"Ar3","d":3,"x":21.2,"y":5.8},{"g":"A","k":"p","id":"Ar3","d":3,"x":20.2,"y":7.4},{"g":"A","k":"p","id":"Ar3","d":3,"x":19.7,"y":8.9},{"g":"A","k":"p","id":"Ar3","d":3,"x":19.4,"y":10.9},{"g":"A","k":"p","id":"Ar3","d":3,"x":18.1,"y":12.5},{"g":"A","k":"p","id":"Ar3","d":3,"x":17.6,"y":13.7},{"g":"A","k":"p","id":"Ar3","d":3,"x":19.1,"y":15.2},{"g":"A","k":"p","id":"Ar3","d":3,"x":18.1,"y":17.6},
{"g":"A","k":"p","id":"Ar4","d":4,"x":19.1,"y":15.2},{"g":"A","k":"p","id":"Ar4","d":4,"x":21.7,"y":16.4},{"g":"A","k":"p","id":"Ar4","d":4,"x":22.7,"y":17.6},{"g":"A","k":"p","id":"Ar4","d":4,"x":24.7,"y":17.2},{"g":"A","k":"p","id":"Ar4","d":4,"x":25.7,"y":15.2},{"g":"A","k":"p","id":"Ar4","d":4,"x":26.4,"y":13.2},{"g":"A","k":"p","id":"Ar4","d":4,"x":25.7,"y":11.3},{"g":"A","k":"p","id":"Ar4","d":4,"x":24.7,"y":9.3},{"g":"A","k":"p","id":"Ar4","d":4,"x":22.7,"y":8.9},{"g":"A","k":"p","id":"Ar4","d":4,"x":20.7,"y":9.3},{"g":"A","k":"p","id":"Ar4","d":4,"x":20.4,"y":12.1},{"g":"A","k":"p","id":"Ar4","d":4,"x":19.1,"y":13.2},
{"g":"A","k":"p","id":"Ar5","d":5,"x":21.7,"y":14},{"g":"A","k":"p","id":"Ar5","d":5,"x":22.7,"y":16.8},{"g":"A","k":"p","id":"Ar5","d":5,"x":24.2,"y":17},{"g":"A","k":"p","id":"Ar5","d":5,"x":24.9,"y":14.8},{"g":"A","k":"p","id":"Ar5","d":5,"x":25.2,"y":12.5},{"g":"A","k":"p","id":"Ar5","d":5,"x":24.4,"y":10.1},{"g":"A","k":"p","id":"Ar5","d":5,"x":23.2,"y":10.5},{"g":"A","k":"p","id":"Ar5","d":5,"x":21.7,"y":11.3},{"g":"A","k":"p","id":"Ar5","d":5,"x":21.1,"y":12.9},
{"g":"A","k":"l","id":"As1","d":6,"x":23,"y":16.5},{"g":"A","k":"l","id":"As1","d":6,"x":24,"y":16.5},
{"g":"A","k":"l","id":"As2","d":6,"x":22.3,"y":13.7},{"g":"A","k":"l","id":"As2","d":6,"x":23.8,"y":15},
{"g":"A","k":"l","id":"As3","d":6,"x":23.6,"y":12.4},{"g":"A","k":"l","id":"As3","d":6,"x":24.8,"y":12.7},
{"g":"A","k":"l","id":"As4","d":5,"x":22.2,"y":11.5},{"g":"A","k":"l","id":"As4","d":5,"x":24,"y":10},
{"g":"A","k":"p","id":"Al0","d":0,"x":0.85,"y":12.3},{"g":"A","k":"p","id":"Al0","d":0,"x":1.85,"y":12.6},{"g":"A","k":"p","id":"Al0","d":0,"x":2.4,"y":13.8},{"g":"A","k":"p","id":"Al0","d":0,"x":3.4,"y":14.6},{"g":"A","k":"p","id":"Al0","d":0,"x":4.1,"y":16},{"g":"A","k":"p","id":"Al0","d":0,"x":6.6,"y":18.1},{"g":"A","k":"p","id":"Al0","d":0,"x":8.6,"y":19.1},{"g":"A","k":"p","id":"Al0","d":0,"x":11.9,"y":19.5},{"g":"A","k":"p","id":"Al0","d":0,"x":14.9,"y":18.3},{"g":"A","k":"p","id":"Al0","d":0,"x":16.1,"y":16},{"g":"A","k":"p","id":"Al0","d":0,"x":17.1,"y":12.5},{"g":"A","k":"p","id":"Al0","d":0,"x":16.4,"y":10.9},{"g":"A","k":"p","id":"Al0","d":0,"x":15.1,"y":9.3},{"g":"A","k":"p","id":"Al0","d":0,"x":14.1,"y":7.4},{"g":"A","k":"p","id":"Al0","d":0,"x":15.1,"y":5.8},{"g":"A","k":"p","id":"Al0","d":0,"x":14.6,"y":4.2},{"g":"A","k":"p","id":"Al0","d":0,"x":13.1,"y":3.5},{"g":"A","k":"p","id":"Al0","d":0,"x":11.6,"y":3.8},{"g":"A","k":"p","id":"Al0","d":0,"x":9.1,"y":4.8},{"g":"A","k":"p","id":"Al0","d":0,"x":6.1,"y":5.1},{"g":"A","k":"p","id":"Al0","d":0,"x":4.9,"y":6.2},{"g":"A","k":"p","id":"Al0","d":0,"x":2.6,"y":7.2},{"g":"A","k":"p","id":"Al0","d":0,"x":1.6,"y":8.3},{"g":"A","k":"p","id":"Al0","d":0,"x":1.35,"y":10.5},
{"g":"A","k":"p","id":"Al1","d":1,"x":2.4,"y":11},{"g":"A","k":"p","id":"Al1","d":1,"x":3.3,"y":14},{"g":"A","k":"p","id":"Al1","d":1,"x":5,"y":16.5},{"g":"A","k":"p","id":"Al1","d":1,"x":7.5,"y":18.2},{"g":"A","k":"p","id":"Al1","d":1,"x":11.8,"y":18.9},{"g":"A","k":"p","id":"Al1","d":1,"x":14.4,"y":17.8},{"g":"A","k":"p","id":"Al1","d":1,"x":15.5,"y":15},{"g":"A","k":"p","id":"Al1","d":1,"x":16.2,"y":12.5},{"g":"A","k":"p","id":"Al1","d":1,"x":15,"y":10},{"g":"A","k":"p","id":"Al1","d":1,"x":13.5,"y":7.5},{"g":"A","k":"p","id":"Al1","d":1,"x":14,"y":5.5},{"g":"A","k":"p","id":"Al1","d":1,"x":13,"y":4.2},{"g":"A","k":"p","id":"Al1","d":1,"x":11,"y":4.4},{"g":"A","k":"p","id":"Al1","d":1,"x":9,"y":5.1},{"g":"A","k":"p","id":"Al1","d":1,"x":6,"y":5.5},{"g":"A","k":"p","id":"Al1","d":1,"x":3.5,"y":7.5},{"g":"A","k":"p","id":"Al1","d":1,"x":2.4,"y":9},
{"g":"A","k":"p","id":"Al2","d":2,"x":2.9,"y":10.9},{"g":"A","k":"p","id":"Al2","d":2,"x":4.1,"y":14},{"g":"A","k":"p","id":"Al2","d":2,"x":6.1,"y":17},{"g":"A","k":"p","id":"Al2","d":2,"x":8.6,"y":18},{"g":"A","k":"p","id":"Al2","d":2,"x":11.9,"y":18.5},{"g":"A","k":"p","id":"Al2","d":2,"x":14.4,"y":17.2},{"g":"A","k":"p","id":"Al2","d":2,"x":15.4,"y":14.7},{"g":"A","k":"p","id":"Al2","d":2,"x":15.6,"y":12.5},{"g":"A","k":"p","id":"Al2","d":2,"x":14.1,"y":9.7},{"g":"A","k":"p","id":"Al2","d":2,"x":12.6,"y":6.6},{"g":"A","k":"p","id":"Al2","d":2,"x":11.6,"y":4.6},{"g":"A","k":"p","id":"Al2","d":2,"x":9.1,"y":5.2},{"g":"A","k":"p","id":"Al2","d":2,"x":6.4,"y":5.6},{"g":"A","k":"p","id":"Al2","d":2,"x":4.6,"y":7},{"g":"A","k":"p","id":"Al2","d":2,"x":3.1,"y":9},
{"g":"A","k":"p","id":"Al3","d":3,"x":4.1,"y":10.5},{"g":"A","k":"p","id":"Al3","d":3,"x":5.4,"y":14},{"g":"A","k":"p","id":"Al3","d":3,"x":6.6,"y":16.4},{"g":"A","k":"p","id":"Al3","d":3,"x":8.1,"y":17.6},{"g":"A","k":"p","id":"Al3","d":3,"x":10.6,"y":18.3},{"g":"A","k":"p","id":"Al3","d":3,"x":13.4,"y":17.2},{"g":"A","k":"p","id":"Al3","d":3,"x":14.4,"y":15},{"g":"A","k":"p","id":"Al3","d":3,"x":14.6,"y":12.5},{"g":"A","k":"p","id":"Al3","d":3,"x":13.4,"y":9.3},{"g":"A","k":"p","id":"Al3","d":3,"x":12.1,"y":7},{"g":"A","k":"p","id":"Al3","d":3,"x":11.4,"y":5},{"g":"A","k":"p","id":"Al3","d":3,"x":9.6,"y":5.8},{"g":"A","k":"p","id":"Al3","d":3,"x":6.6,"y":6.2},{"g":"A","k":"p","id":"Al3","d":3,"x":5.4,"y":7.4},{"g":"A","k":"p","id":"Al3","d":3,"x":4.6,"y":8.9},
{"g":"A","k":"p","id":"Al4","d":4,"x":5.4,"y":11.3},{"g":"A","k":"p","id":"Al4","d":4,"x":6.4,"y":14},{"g":"A","k":"p","id":"Al4","d":4,"x":6.9,"y":16.4},{"g":"A","k":"p","id":"Al4","d":4,"x":8.6,"y":17.2},{"g":"A","k":"p","id":"Al4","d":4,"x":10.4,"y":17.9},{"g":"A","k":"p","id":"Al4","d":4,"x":12.6,"y":16.8},{"g":"A","k":"p","id":"Al4","d":4,"x":13.1,"y":14.4},{"g":"A","k":"p","id":"Al4","d":4,"x":13.6,"y":12.1},{"g":"A","k":"p","id":"Al4","d":4,"x":12.6,"y":8.9},{"g":"A","k":"p","id":"Al4","d":4,"x":11.1,"y":6.8},{"g":"A","k":"p","id":"Al4","d":4,"x":9.1,"y":6.6},{"g":"A","k":"p","id":"Al4","d":4,"x":6.6,"y":7.4},{"g":"A","k":"p","id":"Al4","d":4,"x":5.4,"y":8.9},
{"g":"A","k":"p","id":"Al5","d":5,"x":6.1,"y":11.3},{"g":"A","k":"p","id":"Al5","d":5,"x":6.7,"y":14},{"g":"A","k":"p","id":"Al5","d":5,"x":7.1,"y":16.2},{"g":"A","k":"p","id":"Al5","d":5,"x":8.6,"y":17},{"g":"A","k":"p","id":"Al5","d":5,"x":9.6,"y":16.4},{"g":"A","k":"p","id":"Al5","d":5,"x":11.6,"y":16},{"g":"A","k":"p","id":"Al5","d":5,"x":12.9,"y":15},{"g":"A","k":"p","id":"Al5","d":5,"x":13.1,"y":12.5},{"g":"A","k":"p","id":"Al5","d":5,"x":12.6,"y":9.7},{"g":"A","k":"p","id":"Al5","d":5,"x":10.9,"y":7.2},{"g":"A","k":"p","id":"Al5","d":5,"x":9.1,"y":6.6},{"g":"A","k":"p","id":"Al5","d":5,"x":7.1,"y":7.8},{"g":"A","k":"p","id":"Al5","d":5,"x":5.9,"y":8.9},
{"g":"A","k":"p","id":"Al6","d":6,"x":6.4,"y":11.3},{"g":"A","k":"p","id":"Al6","d":6,"x":7.1,"y":13.6},{"g":"A","k":"p","id":"Al6","d":6,"x":7.6,"y":15.8},{"g":"A","k":"p","id":"Al6","d":6,"x":9.1,"y":16.6},{"g":"A","k":"p","id":"Al6","d":6,"x":9.6,"y":14.4},{"g":"A","k":"p","id":"Al6","d":6,"x":11.6,"y":14.2},{"g":"A","k":"p","id":"Al6","d":6,"x":12.9,"y":12.5},{"g":"A","k":"p","id":"Al6","d":6,"x":12.6,"y":9.7},{"g":"A","k":"p","id":"Al6","d":6,"x":11.1,"y":7.8},{"g":"A","k":"p","id":"Al6","d":6,"x":9.4,"y":6.8},{"g":"A","k":"p","id":"Al6","d":6,"x":8.1,"y":8},{"g":"A","k":"p","id":"Al6","d":6,"x":6.1,"y":8.2},{"g":"A","k":"p","id":"Al6","d":6,"x":6.1,"y":9.7},
{"g":"A","k":"p","id":"Al7","d":7,"x":6.4,"y":10.5},{"g":"A","k":"p","id":"Al7","d":7,"x":7.6,"y":11.3},{"g":"A","k":"p","id":"Al7","d":7,"x":8.4,"y":13.2},{"g":"A","k":"p","id":"Al7","d":7,"x":9.6,"y":12.5},{"g":"A","k":"p","id":"Al7","d":7,"x":11.6,"y":14},{"g":"A","k":"p","id":"Al7","d":7,"x":12.9,"y":14},{"g":"A","k":"p","id":"Al7","d":7,"x":13.1,"y":11.7},{"g":"A","k":"p","id":"Al7","d":7,"x":12.1,"y":9.3},{"g":"A","k":"p","id":"Al7","d":7,"x":11.1,"y":8},{"g":"A","k":"p","id":"Al7","d":7,"x":9.6,"y":6.9},{"g":"A","k":"p","id":"Al7","d":7,"x":8.6,"y":8},{"g":"A","k":"p","id":"Al7","d":7,"x":6.6,"y":8.2},{"g":"A","k":"p","id":"Al7","d":7,"x":6.9,"y":9.4},
{"g":"B","k":"p","id":"Bo","d":0,"x":0.35,"y":12.2},{"g":"B","k":"p","id":"Bo","d":0,"x":2.1,"y":14.3},{"g":"B","k":"p","id":"Bo","d":0,"x":3.6,"y":16.2},{"g":"B","k":"p","id":"Bo","d":0,"x":6.1,"y":18.4},{"g":"B","k":"p","id":"Bo","d":0,"x":8.6,"y":19.3},{"g":"B","k":"p","id":"Bo","d":0,"x":12.1,"y":19.5},{"g":"B","k":"p","id":"Bo","d":0,"x":14.6,"y":18.1},{"g":"B","k":"p","id":"Bo","d":0,"x":15.4,"y":16.3},{"g":"B","k":"p","id":"Bo","d":0,"x":17.4,"y":14.2},{"g":"B","k":"p","id":"Bo","d":0,"x":17.4,"y":10.8},{"g":"B","k":"p","id":"Bo","d":0,"x":15.4,"y":8.9},{"g":"B","k":"p","id":"Bo","d":0,"x":16.1,"y":6.9},{"g":"B","k":"p","id":"Bo","d":0,"x":15.1,"y":4.2},{"g":"B","k":"p","id":"Bo","d":0,"x":13.4,"y":3.2},{"g":"B","k":"p","id":"Bo","d":0,"x":11.1,"y":3.6},{"g":"B","k":"p","id":"Bo","d":0,"x":8.6,"y":4.6},{"g":"B","k":"p","id":"Bo","d":0,"x":6.1,"y":4.8},{"g":"B","k":"p","id":"Bo","d":0,"x":2.1,"y":6.9},{"g":"B","k":"p","id":"Bo","d":0,"x":1.1,"y":8.5},{"g":"B","k":"p","id":"Bo","d":0,"x":0.35,"y":11.4},
{"g":"B","k":"p","id":"Bi1","d":0,"x":22.85,"y":18.4},{"g":"B","k":"p","id":"Bi1","d":0,"x":23.4,"y":18.9},{"g":"B","k":"p","id":"Bi1","d":0,"x":23.95,"y":18.4},{"g":"B","k":"p","id":"Bi1","d":0,"x":23.4,"y":17.9},
{"g":"B","k":"p","id":"Bi2","d":0,"x":23.7,"y":16.2},{"g":"B","k":"p","id":"Bi2","d":0,"x":24.7,"y":15.3},{"g":"B","k":"p","id":"Bi2","d":0,"x":23.9,"y":14.3},{"g":"B","k":"p","id":"Bi2","d":0,"x":22.8,"y":13},{"g":"B","k":"p","id":"Bi2","d":0,"x":21.9,"y":14.3},{"g":"B","k":"p","id":"Bi2","d":0,"x":22.7,"y":15.7},
{"g":"D","k":"p","id":"Do","d":0,"x":0.35,"y":12.4},{"g":"D","k":"p","id":"Do","d":0,"x":2.9,"y":15.1},{"g":"D","k":"p","id":"Do","d":0,"x":5.9,"y":18.2},{"g":"D","k":"p","id":"Do","d":0,"x":10.9,"y":19.8},{"g":"D","k":"p","id":"Do","d":0,"x":14.4,"y":18.8},{"g":"D","k":"p","id":"Do","d":0,"x":17.9,"y":15.5},{"g":"D","k":"p","id":"Do","d":0,"x":20.4,"y":15.4},{"g":"D","k":"p","id":"Do","d":0,"x":20.7,"y":14.9},{"g":"D","k":"p","id":"Do","d":0,"x":21.7,"y":15.1},{"g":"D","k":"p","id":"Do","d":0,"x":22.2,"y":16.3},{"g":"D","k":"p","id":"Do","d":0,"x":21.7,"y":17.3},{"g":"D","k":"p","id":"Do","d":0,"x":22.5,"y":17.4},{"g":"D","k":"p","id":"Do","d":0,"x":24.7,"y":14.9},{"g":"D","k":"p","id":"Do","d":0,"x":23.7,"y":13.8},{"g":"D","k":"p","id":"Do","d":0,"x":23.4,"y":12.2},{"g":"D","k":"p","id":"Do","d":0,"x":20.9,"y":11.3},{"g":"D","k":"p","id":"Do","d":0,"x":19.1,"y":12.2},{"g":"D","k":"p","id":"Do","d":0,"x":17.6,"y":10.8},{"g":"D","k":"p","id":"Do","d":0,"x":17.4,"y":9.5},{"g":"D","k":"p","id":"Do","d":0,"x":15.6,"y":8.9},{"g":"D","k":"p","id":"Do","d":0,"x":16.4,"y":7.1},{"g":"D","k":"p","id":"Do","d":0,"x":15.6,"y":4},{"g":"D","k":"p","id":"Do","d":0,"x":13.1,"y":3.1},{"g":"D","k":"p","id":"Do","d":0,"x":10.9,"y":3.6},{"g":"D","k":"p","id":"Do","d":0,"x":7.9,"y":4.5},{"g":"D","k":"p","id":"Do","d":0,"x":5.9,"y":4.8},{"g":"D","k":"p","id":"Do","d":0,"x":2.1,"y":6.9},{"g":"D","k":"p","id":"Do","d":0,"x":0.6,"y":9.6},
{"g":"D","k":"p","id":"Dh","d":9,"x":18.6,"y":14.3},{"g":"D","k":"p","id":"Dh","d":9,"x":20.2,"y":14.4},{"g":"D","k":"p","id":"Dh","d":9,"x":19.7,"y":13.1},{"g":"D","k":"p","id":"Dh","d":9,"x":18.7,"y":13},
{"g":"D","k":"p","id":"Dc","d":0,"x":28.4,"y":12.4},{"g":"D","k":"p","id":"Dc","d":0,"x":29.4,"y":11.2},{"g":"D","k":"p","id":"Dc","d":0,"x":29.5,"y":9.3},{"g":"D","k":"p","id":"Dc","d":0,"x":28.4,"y":7.5},{"g":"D","k":"p","id":"Dc","d":0,"x":27.2,"y":7},{"g":"D","k":"p","id":"Dc","d":0,"x":26.3,"y":7.8},{"g":"D","k":"p","id":"Dc","d":0,"x":27.4,"y":9.6},{"g":"D","k":"p","id":"Dc","d":0,"x":27.7,"y":11.6},
{"g":"D","k":"p","id":"Dd","d":0,"x":20.2,"y":9},{"g":"D","k":"p","id":"Dd","d":0,"x":20.6,"y":9.3},{"g":"D","k":"p","id":"Dd","d":0,"x":21,"y":9},{"g":"D","k":"p","id":"Dd","d":0,"x":20.6,"y":8.7},
{"g":"BD","k":"p","id":"b1","d":1,"x":1.4,"y":11.6},{"g":"BD","k":"p","id":"b1","d":1,"x":3.1,"y":13.9},{"g":"BD","k":"p","id":"b1","d":1,"x":5.4,"y":16.6},{"g":"BD","k":"p","id":"b1","d":1,"x":8.6,"y":18.5},{"g":"BD","k":"p","id":"b1","d":1,"x":12.1,"y":18.7},{"g":"BD","k":"p","id":"b1","d":1,"x":14.1,"y":17.4},{"g":"BD","k":"p","id":"b1","d":1,"x":14.6,"y":15.5},{"g":"BD","k":"p","id":"b1","d":1,"x":16.1,"y":13.5},{"g":"BD","k":"p","id":"b1","d":1,"x":16.4,"y":10.8},{"g":"BD","k":"p","id":"b1","d":1,"x":14.4,"y":9.2},{"g":"BD","k":"p","id":"b1","d":1,"x":13.6,"y":6.9},{"g":"BD","k":"p","id":"b1","d":1,"x":12.1,"y":5.1},{"g":"BD","k":"p","id":"b1","d":1,"x":10.6,"y":4.7},{"g":"BD","k":"p","id":"b1","d":1,"x":7.1,"y":5.4},{"g":"BD","k":"p","id":"b1","d":1,"x":4.6,"y":6.4},{"g":"BD","k":"p","id":"b1","d":1,"x":2.6,"y":8.4},
{"g":"BD","k":"p","id":"b2","d":2,"x":2.9,"y":11.2},{"g":"BD","k":"p","id":"b2","d":2,"x":4.9,"y":14.3},{"g":"BD","k":"p","id":"b2","d":2,"x":6.6,"y":17.1},{"g":"BD","k":"p","id":"b2","d":2,"x":10.4,"y":18.4},{"g":"BD","k":"p","id":"b2","d":2,"x":13.9,"y":17.5},{"g":"BD","k":"p","id":"b2","d":2,"x":14.4,"y":13.9},{"g":"BD","k":"p","id":"b2","d":2,"x":14.4,"y":10.4},{"g":"BD","k":"p","id":"b2","d":2,"x":12.6,"y":7.3},{"g":"BD","k":"p","id":"b2","d":2,"x":11.6,"y":4.8},{"g":"BD","k":"p","id":"b2","d":2,"x":9.1,"y":5.5},{"g":"BD","k":"p","id":"b2","d":2,"x":6.1,"y":6},{"g":"BD","k":"p","id":"b2","d":2,"x":4.1,"y":7.3},{"g":"BD","k":"p","id":"b2","d":2,"x":3.1,"y":9.3},
{"g":"BD","k":"p","id":"b3","d":3,"x":4.6,"y":10.4},{"g":"BD","k":"p","id":"b3","d":3,"x":5.6,"y":13.6},{"g":"BD","k":"p","id":"b3","d":3,"x":7.4,"y":16.9},{"g":"BD","k":"p","id":"b3","d":3,"x":10.6,"y":17.8},{"g":"BD","k":"p","id":"b3","d":3,"x":13.4,"y":16.7},{"g":"BD","k":"p","id":"b3","d":3,"x":14.1,"y":13.9},{"g":"BD","k":"p","id":"b3","d":3,"x":13.9,"y":10.4},{"g":"BD","k":"p","id":"b3","d":3,"x":12.4,"y":7.7},{"g":"BD","k":"p","id":"b3","d":3,"x":11.6,"y":5.7},{"g":"BD","k":"p","id":"b3","d":3,"x":8.6,"y":6},{"g":"BD","k":"p","id":"b3","d":3,"x":6.4,"y":6.9},{"g":"BD","k":"p","id":"b3","d":3,"x":4.6,"y":8.5},
{"g":"BD","k":"p","id":"b4","d":4,"x":5.9,"y":10.4},{"g":"BD","k":"p","id":"b4","d":4,"x":6.6,"y":13.6},{"g":"BD","k":"p","id":"b4","d":4,"x":6.9,"y":16.3},{"g":"BD","k":"p","id":"b4","d":4,"x":9.1,"y":17.1},{"g":"BD","k":"p","id":"b4","d":4,"x":10.1,"y":15.5},{"g":"BD","k":"p","id":"b4","d":4,"x":12.6,"y":15.9},{"g":"BD","k":"p","id":"b4","d":4,"x":13.1,"y":12.8},{"g":"BD","k":"p","id":"b4","d":4,"x":13.4,"y":10},{"g":"BD","k":"p","id":"b4","d":4,"x":12.1,"y":7.7},{"g":"BD","k":"p","id":"b4","d":4,"x":9.6,"y":6.5},{"g":"BD","k":"p","id":"b4","d":4,"x":7.1,"y":7.7},{"g":"BD","k":"p","id":"b4","d":4,"x":5.9,"y":8.9},
{"g":"BD","k":"p","id":"b5","d":5,"x":6.1,"y":10.4},{"g":"BD","k":"p","id":"b5","d":5,"x":7.1,"y":12.8},{"g":"BD","k":"p","id":"b5","d":5,"x":7.6,"y":14.3},{"g":"BD","k":"p","id":"b5","d":5,"x":9.1,"y":13.9},{"g":"BD","k":"p","id":"b5","d":5,"x":10.6,"y":13.8},{"g":"BD","k":"p","id":"b5","d":5,"x":12.9,"y":14.1},{"g":"BD","k":"p","id":"b5","d":5,"x":13.4,"y":11.2},{"g":"BD","k":"p","id":"b5","d":5,"x":12.6,"y":8.1},{"g":"BD","k":"p","id":"b5","d":5,"x":10.4,"y":6.9},{"g":"BD","k":"p","id":"b5","d":5,"x":9.1,"y":6.5},{"g":"BD","k":"p","id":"b5","d":5,"x":7.9,"y":8.1},{"g":"BD","k":"p","id":"b5","d":5,"x":6.1,"y":8.3},
{"g":"BD","k":"p","id":"b6","d":6,"x":6.9,"y":10.8},{"g":"BD","k":"p","id":"b6","d":6,"x":7.9,"y":12.8},{"g":"BD","k":"p","id":"b6","d":6,"x":9.1,"y":13.9},{"g":"BD","k":"p","id":"b6","d":6,"x":10.4,"y":12.4},{"g":"BD","k":"p","id":"b6","d":6,"x":12.4,"y":13.8},{"g":"BD","k":"p","id":"b6","d":6,"x":12.9,"y":11.6},{"g":"BD","k":"p","id":"b6","d":6,"x":11.6,"y":9.6},{"g":"BD","k":"p","id":"b6","d":6,"x":11.9,"y":8.1},{"g":"BD","k":"p","id":"b6","d":6,"x":9.9,"y":8.5},{"g":"BD","k":"p","id":"b6","d":6,"x":9.4,"y":6.9},{"g":"BD","k":"p","id":"b6","d":6,"x":8.4,"y":8.5},{"g":"BD","k":"p","id":"b6","d":6,"x":6.4,"y":8.7},
{"g":"BD","k":"p","id":"b7","d":7,"x":12.6,"y":13.7},{"g":"BD","k":"p","id":"b7","d":7,"x":11.9,"y":12.2},{"g":"BD","k":"p","id":"b7","d":7,"x":11.1,"y":11.2},{"g":"BD","k":"p","id":"b7","d":7,"x":11.4,"y":9.1},{"g":"BD","k":"p","id":"b7","d":7,"x":10.1,"y":9.6},{"g":"BD","k":"p","id":"b7","d":7,"x":9.6,"y":7.7},{"g":"BD","k":"p","id":"b7","d":7,"x":8.9,"y":7.5},{"g":"BD","k":"p","id":"b7","d":7,"x":8.4,"y":8.9},{"g":"BD","k":"p","id":"b7","d":7,"x":7.6,"y":10},{"g":"BD","k":"p","id":"b7","d":7,"x":7.4,"y":10.8},{"g":"BD","k":"p","id":"b7","d":7,"x":9.6,"y":11.8},{"g":"BD","k":"p","id":"b7","d":7,"x":10.4,"y":12.4},
{"g":"C","k":"p","id":"c0","d":0,"x":15.1,"y":19},{"g":"C","k":"p","id":"c0","d":0,"x":15.9,"y":21.4},{"g":"C","k":"p","id":"c0","d":0,"x":18.4,"y":23.1},{"g":"C","k":"p","id":"c0","d":0,"x":21.4,"y":23.8},{"g":"C","k":"p","id":"c0","d":0,"x":23.2,"y":23.5},{"g":"C","k":"p","id":"c0","d":0,"x":25.9,"y":21.1},{"g":"C","k":"p","id":"c0","d":0,"x":28.4,"y":17},{"g":"C","k":"p","id":"c0","d":0,"x":29.9,"y":11.2},{"g":"C","k":"p","id":"c0","d":0,"x":29.9,"y":9.3},{"g":"C","k":"p","id":"c0","d":0,"x":29.2,"y":7.7},{"g":"C","k":"p","id":"c0","d":0,"x":26.9,"y":5.8},{"g":"C","k":"p","id":"c0","d":0,"x":26.7,"y":4.8},{"g":"C","k":"p","id":"c0","d":0,"x":24.4,"y":3},{"g":"C","k":"p","id":"c0","d":0,"x":21.9,"y":1.2},{"g":"C","k":"p","id":"c0","d":0,"x":19.2,"y":0.7},{"g":"C","k":"p","id":"c0","d":0,"x":17.4,"y":1.2},{"g":"C","k":"p","id":"c0","d":0,"x":17.6,"y":3.4},{"g":"C","k":"p","id":"c0","d":0,"x":17.6,"y":5.4},{"g":"C","k":"p","id":"c0","d":0,"x":16.5,"y":7.7},{"g":"C","k":"p","id":"c0","d":0,"x":16.5,"y":10.4},{"g":"C","k":"p","id":"c0","d":0,"x":15.9,"y":14.7},{"g":"C","k":"p","id":"c0","d":0,"x":15.1,"y":17.5},
{"g":"C","k":"p","id":"c1","d":1,"x":16,"y":19},{"g":"C","k":"p","id":"c1","d":1,"x":16.8,"y":21.3},{"g":"C","k":"p","id":"c1","d":1,"x":18.8,"y":22.7},{"g":"C","k":"p","id":"c1","d":1,"x":21.4,"y":23.2},{"g":"C","k":"p","id":"c1","d":1,"x":23,"y":22.8},{"g":"C","k":"p","id":"c1","d":1,"x":25.5,"y":20.5},{"g":"C","k":"p","id":"c1","d":1,"x":27.5,"y":17},{"g":"C","k":"p","id":"c1","d":1,"x":28.9,"y":11.5},{"g":"C","k":"p","id":"c1","d":1,"x":28.9,"y":9},{"g":"C","k":"p","id":"c1","d":1,"x":26.5,"y":6.5},{"g":"C","k":"p","id":"c1","d":1,"x":25.5,"y":5},{"g":"C","k":"p","id":"c1","d":1,"x":23.5,"y":3.2},{"g":"C","k":"p","id":"c1","d":1,"x":21.5,"y":1.8},{"g":"C","k":"p","id":"c1","d":1,"x":19,"y":1.3},{"g":"C","k":"p","id":"c1","d":1,"x":18.2,"y":2},{"g":"C","k":"p","id":"c1","d":1,"x":18.4,"y":5},{"g":"C","k":"p","id":"c1","d":1,"x":18,"y":8},{"g":"C","k":"p","id":"c1","d":1,"x":17.3,"y":11},{"g":"C","k":"p","id":"c1","d":1,"x":16.8,"y":15},
{"g":"C","k":"p","id":"c2","d":2,"x":16.1,"y":19.6},{"g":"C","k":"p","id":"c2","d":2,"x":17.4,"y":21.8},{"g":"C","k":"p","id":"c2","d":2,"x":19.9,"y":23},{"g":"C","k":"p","id":"c2","d":2,"x":22.9,"y":22.7},{"g":"C","k":"p","id":"c2","d":2,"x":25.4,"y":20.6},{"g":"C","k":"p","id":"c2","d":2,"x":26.9,"y":16.7},{"g":"C","k":"p","id":"c2","d":2,"x":27.9,"y":14},{"g":"C","k":"p","id":"c2","d":2,"x":28.6,"y":11.2},{"g":"C","k":"p","id":"c2","d":2,"x":27.7,"y":8.1},{"g":"C","k":"p","id":"c2","d":2,"x":26.4,"y":6.1},{"g":"C","k":"p","id":"c2","d":2,"x":23.9,"y":4.4},{"g":"C","k":"p","id":"c2","d":2,"x":21.4,"y":3.2},{"g":"C","k":"p","id":"c2","d":2,"x":19.4,"y":3},{"g":"C","k":"p","id":"c2","d":2,"x":19.2,"y":5},{"g":"C","k":"p","id":"c2","d":2,"x":18.4,"y":8.1},{"g":"C","k":"p","id":"c2","d":2,"x":17.6,"y":12},{"g":"C","k":"p","id":"c2","d":2,"x":17.1,"y":15.5},
{"g":"C","k":"p","id":"c3","d":3,"x":16.9,"y":19.8},{"g":"C","k":"p","id":"c3","d":3,"x":18,"y":22},{"g":"C","k":"p","id":"c3","d":3,"x":20.4,"y":22.5},{"g":"C","k":"p","id":"c3","d":3,"x":22.7,"y":22.3},{"g":"C","k":"p","id":"c3","d":3,"x":24.7,"y":19.8},{"g":"C","k":"p","id":"c3","d":3,"x":25.9,"y":17.1},{"g":"C","k":"p","id":"c3","d":3,"x":26.9,"y":13.9},{"g":"C","k":"p","id":"c3","d":3,"x":27.2,"y":11.2},{"g":"C","k":"p","id":"c3","d":3,"x":26.4,"y":8.5},{"g":"C","k":"p","id":"c3","d":3,"x":25,"y":6.5},{"g":"C","k":"p","id":"c3","d":3,"x":23.7,"y":5.2},{"g":"C","k":"p","id":"c3","d":3,"x":21.9,"y":5.2},{"g":"C","k":"p","id":"c3","d":3,"x":19.2,"y":4.6},{"g":"C","k":"p","id":"c3","d":3,"x":19.2,"y":5.7},{"g":"C","k":"p","id":"c3","d":3,"x":19.4,"y":7.7},{"g":"C","k":"p","id":"c3","d":3,"x":18.9,"y":10.4},{"g":"C","k":"p","id":"c3","d":3,"x":18.2,"y":13.2},{"g":"C","k":"p","id":"c3","d":3,"x":17.6,"y":15.9},{"g":"C","k":"p","id":"c3","d":3,"x":16.9,"y":17.8},
{"g":"C","k":"p","id":"c4","d":4,"x":20.6,"y":20.2},{"g":"C","k":"p","id":"c4","d":4,"x":21.4,"y":21.6},{"g":"C","k":"p","id":"c4","d":4,"x":22.4,"y":19.8},{"g":"C","k":"p","id":"c4","d":4,"x":24.7,"y":19.4},{"g":"C","k":"p","id":"c4","d":4,"x":24.4,"y":18.4},{"g":"C","k":"p","id":"c4","d":4,"x":25.9,"y":15.5},{"g":"C","k":"p","id":"c4","d":4,"x":26.9,"y":13.6},{"g":"C","k":"p","id":"c4","d":4,"x":26.4,"y":11.2},{"g":"C","k":"p","id":"c4","d":4,"x":25.9,"y":8.5},{"g":"C","k":"p","id":"c4","d":4,"x":24.9,"y":7.5},{"g":"C","k":"p","id":"c4","d":4,"x":23.9,"y":6.1},{"g":"C","k":"p","id":"c4","d":4,"x":22.4,"y":6.5},{"g":"C","k":"p","id":"c4","d":4,"x":20.4,"y":7.5},{"g":"C","k":"p","id":"c4","d":4,"x":19.4,"y":10.4},{"g":"C","k":"p","id":"c4","d":4,"x":19.2,"y":14.7},{"g":"C","k":"p","id":"c4","d":4,"x":20.4,"y":17},{"g":"C","k":"p","id":"c4","d":4,"x":20.9,"y":18.6},
{"g":"C","k":"p","id":"c5","d":5,"x":21.9,"y":17.9},{"g":"C","k":"p","id":"c5","d":5,"x":23.9,"y":17.5},{"g":"C","k":"p","id":"c5","d":5,"x":25.4,"y":16.3},{"g":"C","k":"p","id":"c5","d":5,"x":26.9,"y":15.1},{"g":"C","k":"p","id":"c5","d":5,"x":26.4,"y":13.2},{"g":"C","k":"p","id":"c5","d":5,"x":26.1,"y":11.2},{"g":"C","k":"p","id":"c5","d":5,"x":25.9,"y":9.6},{"g":"C","k":"p","id":"c5","d":5,"x":24.4,"y":8.5},{"g":"C","k":"p","id":"c5","d":5,"x":23.2,"y":8.1},{"g":"C","k":"p","id":"c5","d":5,"x":21.9,"y":8.1},{"g":"C","k":"p","id":"c5","d":5,"x":20.4,"y":8.1},{"g":"C","k":"p","id":"c5","d":5,"x":19.9,"y":10.4},{"g":"C","k":"p","id":"c5","d":5,"x":19.9,"y":13.6},{"g":"C","k":"p","id":"c5","d":5,"x":19.4,"y":14.7},{"g":"C","k":"p","id":"c5","d":5,"x":21.4,"y":15.5},
{"g":"C","k":"p","id":"c6","d":6,"x":21.9,"y":17.8},{"g":"C","k":"p","id":"c6","d":6,"x":24.1,"y":17.3},{"g":"C","k":"p","id":"c6","d":6,"x":25.4,"y":15.5},{"g":"C","k":"p","id":"c6","d":6,"x":26.1,"y":13.6},{"g":"C","k":"p","id":"c6","d":6,"x":25.7,"y":11.2},{"g":"C","k":"p","id":"c6","d":6,"x":25.4,"y":9.6},{"g":"C","k":"p","id":"c6","d":6,"x":23.9,"y":8.9},{"g":"C","k":"p","id":"c6","d":6,"x":21.9,"y":10},{"g":"C","k":"p","id":"c6","d":6,"x":20.9,"y":11.2},{"g":"C","k":"p","id":"c6","d":6,"x":21.4,"y":12.8},{"g":"C","k":"p","id":"c6","d":6,"x":20.4,"y":13.9},{"g":"C","k":"p","id":"c6","d":6,"x":21.9,"y":15.5},
{"g":"C","k":"p","id":"c7","d":7,"x":22.4,"y":16.9},{"g":"C","k":"p","id":"c7","d":7,"x":24.7,"y":17.1},{"g":"C","k":"p","id":"c7","d":7,"x":25.4,"y":15.9},{"g":"C","k":"p","id":"c7","d":7,"x":24.4,"y":15.1},{"g":"C","k":"p","id":"c7","d":7,"x":23.4,"y":15.1},{"g":"C","k":"p","id":"c7","d":7,"x":23.9,"y":13.9},{"g":"C","k":"p","id":"c7","d":7,"x":22.4,"y":13.2},{"g":"C","k":"p","id":"c7","d":7,"x":21.7,"y":13.9},{"g":"C","k":"p","id":"c7","d":7,"x":22.7,"y":15.5},
{"g":"C","k":"p","id":"c8","d":7,"x":23.7,"y":13},{"g":"C","k":"p","id":"c8","d":7,"x":25.2,"y":12.6},{"g":"C","k":"p","id":"c8","d":7,"x":24.4,"y":11.2},{"g":"C","k":"p","id":"c8","d":7,"x":25.2,"y":10.4},{"g":"C","k":"p","id":"c8","d":7,"x":23.9,"y":9.6},{"g":"C","k":"p","id":"c8","d":7,"x":22.4,"y":10.4},{"g":"C","k":"p","id":"c8","d":7,"x":21.7,"y":11.4},{"g":"C","k":"p","id":"c8","d":7,"x":22.9,"y":12},
{"g":"C","k":"l","id":"cs1","d":6,"x":20.2,"y":10.4},{"g":"C","k":"l","id":"cs1","d":6,"x":20.3,"y":10.5},
{"g":"C","k":"l","id":"cs2","d":5,"x":18.2,"y":21.4},{"g":"C","k":"l","id":"cs2","d":5,"x":18.4,"y":21.4},
{"g":"B","k":"s","x":21.4,"y":20},{"g":"B","k":"s","x":19,"y":15.3},{"g":"B","k":"s","x":20,"y":12.1},{"g":"B","k":"s","x":21.5,"y":11.9},{"g":"B","k":"s","x":21.8,"y":9},{"g":"B","k":"s","x":19.2,"y":4.3},
{"g":"C","k":"s","x":3.6,"y":14.1},{"g":"C","k":"s","x":7.1,"y":13},{"g":"C","k":"s","x":5.7,"y":12},{"g":"C","k":"s","x":12.6,"y":14.2},{"g":"C","k":"s","x":13.6,"y":8.8},{"g":"C","k":"s","x":11.1,"y":15},
{"g":"D","k":"s","x":17.1,"y":17.3},{"g":"D","k":"s","x":19.3,"y":17.3},{"g":"D","k":"s","x":21.9,"y":6.9},{"g":"D","k":"s","x":25.8,"y":5.5},{"g":"D","k":"s","x":24.6,"y":3.7},{"g":"D","k":"s","x":27.3,"y":12},{"g":"D","k":"s","x":25.9,"y":8.1},{"g":"D","k":"s","x":18.2,"y":9.1},{"g":"D","k":"s","x":24.3,"y":6.7},
{"g":"A","k":"r","x":-6.7,"y":11.9,"s":"UMAP"}
]},
"vconcat":[
{"hconcat":[
{"data":{"name":"t"},"transform":[{"calculate":"split(datum.g,'')","as":"panel"},{"flatten":["panel"]},{"window":[{"op":"row_number","as":"o"}]},{"filter":"datum.panel=='A'||datum.panel=='B'"}],"facet":{"column":{"field":"panel","type":"nominal","header":null}},"spacing":58,"bounds":"flush","resolve":{"axis":{"x":"independent","y":"independent"}},
"spec":{"width":228,"height":228,"encoding":{"x":{"field":"x","type":"quantitative","scale":{"domain":[0,180]},"axis":{"values":[0,10,20,30,40,50,60,70,80,90,100,110,120,130,140,150,160,170,180],"tickSize":{"expr":"datum.value%50==0?6:3"},"labels":false,"title":null}},"y":{"field":"y","type":"quantitative","scale":{"domain":[-1.4,160.2]},"axis":{"values":[0,10,20,30,40,50,60,70,80,90,100,110,120,130,140,150,160],"tickSize":{"expr":"datum.value%50==0?6:3"},"labelExpr":"datum.value%50==0?datum.label:''","title":null}},"detail":{"field":"id"},"order":{"field":"o","type":"quantitative"}},
"layer":[
{"transform":[{"filter":"datum.k=='p'"}],"mark":{"type":"line","interpolate":"cardinal-closed","clip":true,"strokeWidth":3},"encoding":{"fill":{"field":"d","type":"ordinal","legend":null,"scale":{"domain":[0,1,2,3,4,5,6,7,9],"range":["#0020ff","#0070ff","#00d8ff","#00ee50","#a0ff00","#ffff00","#ff9000","#ff1500","#ffffff"]}},"stroke":{"field":"d","type":"ordinal","legend":null,"scale":{"domain":[0,1,2,3,4,5,6,7,9],"range":["#0000ff","#0038ff","#00a0ff","#00e8c0","#50ff20","#d0ff00","#ffc800","#ff5000","#ffffff"]}}}},
{"transform":[{"filter":"datum.k=='l'&&datum.d>=1"}],"mark":{"type":"line","stroke":"#0050ff","strokeWidth":{"expr":"9+2.8*(datum.d-1)"}}},
{"transform":[{"filter":"datum.k=='l'&&datum.d>=1.5"}],"mark":{"type":"line","stroke":"#00a0ff","strokeWidth":{"expr":"8+2.8*(datum.d-1.5)"}}},
{"transform":[{"filter":"datum.k=='l'&&datum.d>=2"}],"mark":{"type":"line","stroke":"#00e0f0","strokeWidth":{"expr":"7+2.8*(datum.d-2)"}}},
{"transform":[{"filter":"datum.k=='l'&&datum.d>=3"}],"mark":{"type":"line","stroke":"#00f080","strokeWidth":{"expr":"6.5+2.8*(datum.d-3)"}}},
{"transform":[{"filter":"datum.k=='l'&&datum.d>=4"}],"mark":{"type":"line","stroke":"#00f000","strokeWidth":{"expr":"6+2.8*(datum.d-4)"}}},
{"transform":[{"filter":"datum.k=='l'&&datum.d>=4.5"}],"mark":{"type":"line","stroke":"#70ff00","strokeWidth":{"expr":"5.5+2.7*(datum.d-4.5)"}}},
{"transform":[{"filter":"datum.k=='l'&&datum.d>=5"}],"mark":{"type":"line","stroke":"#e8ff00","strokeWidth":{"expr":"5.5+3*(datum.d-5)"}}},
{"transform":[{"filter":"datum.k=='l'&&datum.d>=5.5"}],"mark":{"type":"line","stroke":"#ffc800","strokeWidth":{"expr":"5+3*(datum.d-5.5)"}}},
{"transform":[{"filter":"datum.k=='l'&&datum.d>=6"}],"mark":{"type":"line","stroke":"#ff8000","strokeWidth":{"expr":"5+3.5*(datum.d-6)"}}},
{"transform":[{"filter":"datum.k=='l'&&datum.d>=7"}],"mark":{"type":"line","stroke":"#ff1800","strokeWidth":6.5}},
{"transform":[{"filter":"datum.k=='h'"}],"mark":{"type":"point","filled":true,"fill":"#fff","opacity":1,"size":22}},
{"transform":[{"filter":"datum.k=='t'"}],"mark":{"type":"text","fontSize":21,"fill":"#444","baseline":"middle"},"encoding":{"text":{"field":"s"}}},
{"transform":[{"filter":"datum.k=='n'"}],"mark":{"type":"text","fontSize":23,"fill":"#111","baseline":"middle"},"encoding":{"text":{"field":"s"}}},
{"transform":[{"filter":"datum.k=='r'"}],"mark":{"type":"text","fontSize":21,"fill":"#444","baseline":"middle","align":"right"},"encoding":{"text":{"field":"s"}}}
]}},
{"data":{"name":"t"},"transform":[{"calculate":"split(datum.g,'')","as":"panel"},{"flatten":["panel"]},{"window":[{"op":"row_number","as":"o"}]},{"filter":"datum.panel=='C'||datum.panel=='D'"}],"facet":{"column":{"field":"panel","type":"nominal","header":null}},"spacing":55,"bounds":"flush","resolve":{"axis":{"x":"independent","y":"independent"}},
"spec":{"width":228,"height":228,"encoding":{"x":{"field":"x","type":"quantitative","scale":{"domain":[0,180]},"axis":{"values":[0,10,20,30,40,50,60,70,80,90,100,110,120,130,140,150,160,170,180],"tickSize":{"expr":"datum.value%50==0?6:3"},"labels":false,"title":null}},"y":{"field":"y","type":"quantitative","scale":{"domain":[-1.4,160.2]},"axis":{"values":[0,10,20,30,40,50,60,70,80,90,100,110,120,130,140,150,160],"tickSize":{"expr":"datum.value%50==0?6:3"},"labelExpr":"datum.value%50==0?datum.label:''","title":null}},"detail":{"field":"id"},"order":{"field":"o","type":"quantitative"}},
"layer":[
{"transform":[{"filter":"datum.k=='p'"}],"mark":{"type":"line","interpolate":"cardinal-closed","clip":true,"strokeWidth":3},"encoding":{"fill":{"field":"d","type":"ordinal","legend":null,"scale":{"domain":[0,1,2,3,4,5,6,7,9],"range":["#0020ff","#0070ff","#00d8ff","#00ee50","#a0ff00","#ffff00","#ff9000","#ff1500","#ffffff"]}},"stroke":{"field":"d","type":"ordinal","legend":null,"scale":{"domain":[0,1,2,3,4,5,6,7,9],"range":["#0000ff","#0038ff","#00a0ff","#00e8c0","#50ff20","#d0ff00","#ffc800","#ff5000","#ffffff"]}}}},
{"transform":[{"filter":"datum.k=='l'&&datum.d>=1"}],"mark":{"type":"line","stroke":"#0050ff","strokeWidth":{"expr":"9+2.8*(datum.d-1)"}}},
{"transform":[{"filter":"datum.k=='l'&&datum.d>=1.5"}],"mark":{"type":"line","stroke":"#00a0ff","strokeWidth":{"expr":"8+2.8*(datum.d-1.5)"}}},
{"transform":[{"filter":"datum.k=='l'&&datum.d>=2"}],"mark":{"type":"line","stroke":"#00e0f0","strokeWidth":{"expr":"7+2.8*(datum.d-2)"}}},
{"transform":[{"filter":"datum.k=='l'&&datum.d>=3"}],"mark":{"type":"line","stroke":"#00f080","strokeWidth":{"expr":"6.5+2.8*(datum.d-3)"}}},
{"transform":[{"filter":"datum.k=='l'&&datum.d>=4"}],"mark":{"type":"line","stroke":"#00f000","strokeWidth":{"expr":"6+2.8*(datum.d-4)"}}},
{"transform":[{"filter":"datum.k=='l'&&datum.d>=4.5"}],"mark":{"type":"line","stroke":"#70ff00","strokeWidth":{"expr":"5.5+2.7*(datum.d-4.5)"}}},
{"transform":[{"filter":"datum.k=='l'&&datum.d>=5"}],"mark":{"type":"line","stroke":"#e8ff00","strokeWidth":{"expr":"5.5+3*(datum.d-5)"}}},
{"transform":[{"filter":"datum.k=='l'&&datum.d>=5.5"}],"mark":{"type":"line","stroke":"#ffc800","strokeWidth":{"expr":"5+3*(datum.d-5.5)"}}},
{"transform":[{"filter":"datum.k=='l'&&datum.d>=6"}],"mark":{"type":"line","stroke":"#ff8000","strokeWidth":{"expr":"5+3.5*(datum.d-6)"}}},
{"transform":[{"filter":"datum.k=='l'&&datum.d>=7"}],"mark":{"type":"line","stroke":"#ff1800","strokeWidth":6.5}},
{"transform":[{"filter":"datum.k=='h'"}],"mark":{"type":"point","filled":true,"fill":"#fff","opacity":1,"size":22}},
{"transform":[{"filter":"datum.k=='t'"}],"mark":{"type":"text","fontSize":21,"fill":"#444","baseline":"middle"},"encoding":{"text":{"field":"s"}}},
{"transform":[{"filter":"datum.k=='n'"}],"mark":{"type":"text","fontSize":23,"fill":"#111","baseline":"middle"},"encoding":{"text":{"field":"s"}}}
]}}
],"spacing":29},
{"hconcat":[
{"data":{"name":"u"},"transform":[{"calculate":"split(datum.g,'')","as":"panel"},{"flatten":["panel"]},{"window":[{"op":"row_number","as":"o"}]},{"filter":"datum.panel=='A'||datum.panel=='B'"}],"facet":{"column":{"field":"panel","type":"nominal","header":null}},"spacing":58,"bounds":"flush","resolve":{"axis":{"x":"independent","y":"independent"}},
"spec":{"width":228,"height":228,"encoding":{"x":{"field":"x","type":"quantitative","scale":{"domain":[-1.9,32.4]},"axis":{"values":[0,2.5,5,7.5,10,12.5,15,17.5,20,22.5,25,27.5,30],"tickSize":{"expr":"datum.value%10==0?6:3"},"labelExpr":"datum.value%10==0?datum.value:''","labelPadding":3,"title":"UMAP-1: UMAP","titleFontSize":8,"titleFontWeight":"normal","titleColor":"#444","titlePadding":18}},"y":{"field":"y","type":"quantitative","scale":{"domain":[-1.33,25.47]},"axis":{"values":[0,1,2,3,4,5,6,7,8,9,10,11,12,13,14,15,16,17,18,19,20,21,22,23,24,25],"tickSize":{"expr":"datum.value%5==0?6:3"},"labelExpr":"datum.value==5?'5.0':datum.value%5==0?datum.value:''","title":null}},"detail":{"field":"id"},"order":{"field":"o","type":"quantitative"}},
"layer":[
{"transform":[{"filter":"datum.k=='p'"}],"mark":{"type":"line","interpolate":"cardinal-closed","clip":true,"strokeWidth":3},"encoding":{"fill":{"field":"d","type":"ordinal","legend":null,"scale":{"domain":[0,1,2,3,4,5,6,7,9],"range":["#0000ff","#0070ff","#00d8ff","#00ee50","#a0ff00","#ffff00","#ff9000","#ff1500","#ffffff"]}},"stroke":{"field":"d","type":"ordinal","legend":null,"scale":{"domain":[0,1,2,3,4,5,6,7,9],"range":["#0000ff","#0038ff","#00a0ff","#00e8c0","#50ff20","#d0ff00","#ffc800","#ff5000","#ffffff"]}}}},
{"transform":[{"filter":"datum.k=='l'&&datum.d>=5"}],"mark":{"type":"line","stroke":"#e8ff00","strokeWidth":{"expr":"6+2*(datum.d-5)"}}},
{"transform":[{"filter":"datum.k=='l'&&datum.d>=5.5"}],"mark":{"type":"line","stroke":"#ffc800","strokeWidth":{"expr":"5+2*(datum.d-5.5)"}}},
{"transform":[{"filter":"datum.k=='l'&&datum.d>=6"}],"mark":{"type":"line","stroke":"#ff6000","strokeWidth":4}},
{"transform":[{"filter":"datum.k=='s'"}],"mark":{"type":"point","filled":true,"fill":"#333","opacity":1,"size":1}},
{"transform":[{"filter":"datum.k=='r'"}],"mark":{"type":"text","fontSize":21,"fill":"#444","baseline":"middle","align":"right"},"encoding":{"text":{"field":"s"}}}
]}},
{"data":{"name":"u"},"transform":[{"calculate":"split(datum.g,'')","as":"panel"},{"flatten":["panel"]},{"window":[{"op":"row_number","as":"o"}]},{"filter":"datum.panel=='C'||datum.panel=='D'"}],"facet":{"column":{"field":"panel","type":"nominal","header":null}},"spacing":55,"bounds":"flush","resolve":{"axis":{"x":"independent","y":"independent"}},
"spec":{"width":228,"height":228,"encoding":{"x":{"field":"x","type":"quantitative","scale":{"domain":[-1.9,32.4]},"axis":{"values":[0,2.5,5,7.5,10,12.5,15,17.5,20,22.5,25,27.5,30],"tickSize":{"expr":"datum.value%10==0?6:3"},"labelExpr":"datum.value%10==0?datum.value:''","labelPadding":3,"title":"UMAP-1: UMAP","titleFontSize":8,"titleFontWeight":"normal","titleColor":"#444","titlePadding":18}},"y":{"field":"y","type":"quantitative","scale":{"domain":[-1.33,25.47]},"axis":{"values":[0,1,2,3,4,5,6,7,8,9,10,11,12,13,14,15,16,17,18,19,20,21,22,23,24,25],"tickSize":{"expr":"datum.value%5==0?6:3"},"labelExpr":"datum.value==5?'5.0':datum.value%5==0?datum.value:''","title":null}},"detail":{"field":"id"},"order":{"field":"o","type":"quantitative"}},
"layer":[
{"transform":[{"filter":"datum.k=='p'"}],"mark":{"type":"line","interpolate":"cardinal-closed","clip":true,"strokeWidth":3},"encoding":{"fill":{"field":"d","type":"ordinal","legend":null,"scale":{"domain":[0,1,2,3,4,5,6,7,9],"range":["#0000ff","#0070ff","#00d8ff","#00ee50","#a0ff00","#ffff00","#ff9000","#ff1500","#ffffff"]}},"stroke":{"field":"d","type":"ordinal","legend":null,"scale":{"domain":[0,1,2,3,4,5,6,7,9],"range":["#0000ff","#0038ff","#00a0ff","#00e8c0","#50ff20","#d0ff00","#ffc800","#ff5000","#ffffff"]}}}},
{"transform":[{"filter":"datum.k=='l'&&datum.d>=5"}],"mark":{"type":"line","stroke":"#e8ff00","strokeWidth":{"expr":"6+2*(datum.d-5)"}}},
{"transform":[{"filter":"datum.k=='l'&&datum.d>=5.5"}],"mark":{"type":"line","stroke":"#ffc800","strokeWidth":{"expr":"5+2*(datum.d-5.5)"}}},
{"transform":[{"filter":"datum.k=='l'&&datum.d>=6"}],"mark":{"type":"line","stroke":"#ff6000","strokeWidth":4}},
{"transform":[{"filter":"datum.k=='s'"}],"mark":{"type":"point","filled":true,"fill":"#333","opacity":1,"size":1}}
]}}
],"spacing":36}
],"spacing":44}
